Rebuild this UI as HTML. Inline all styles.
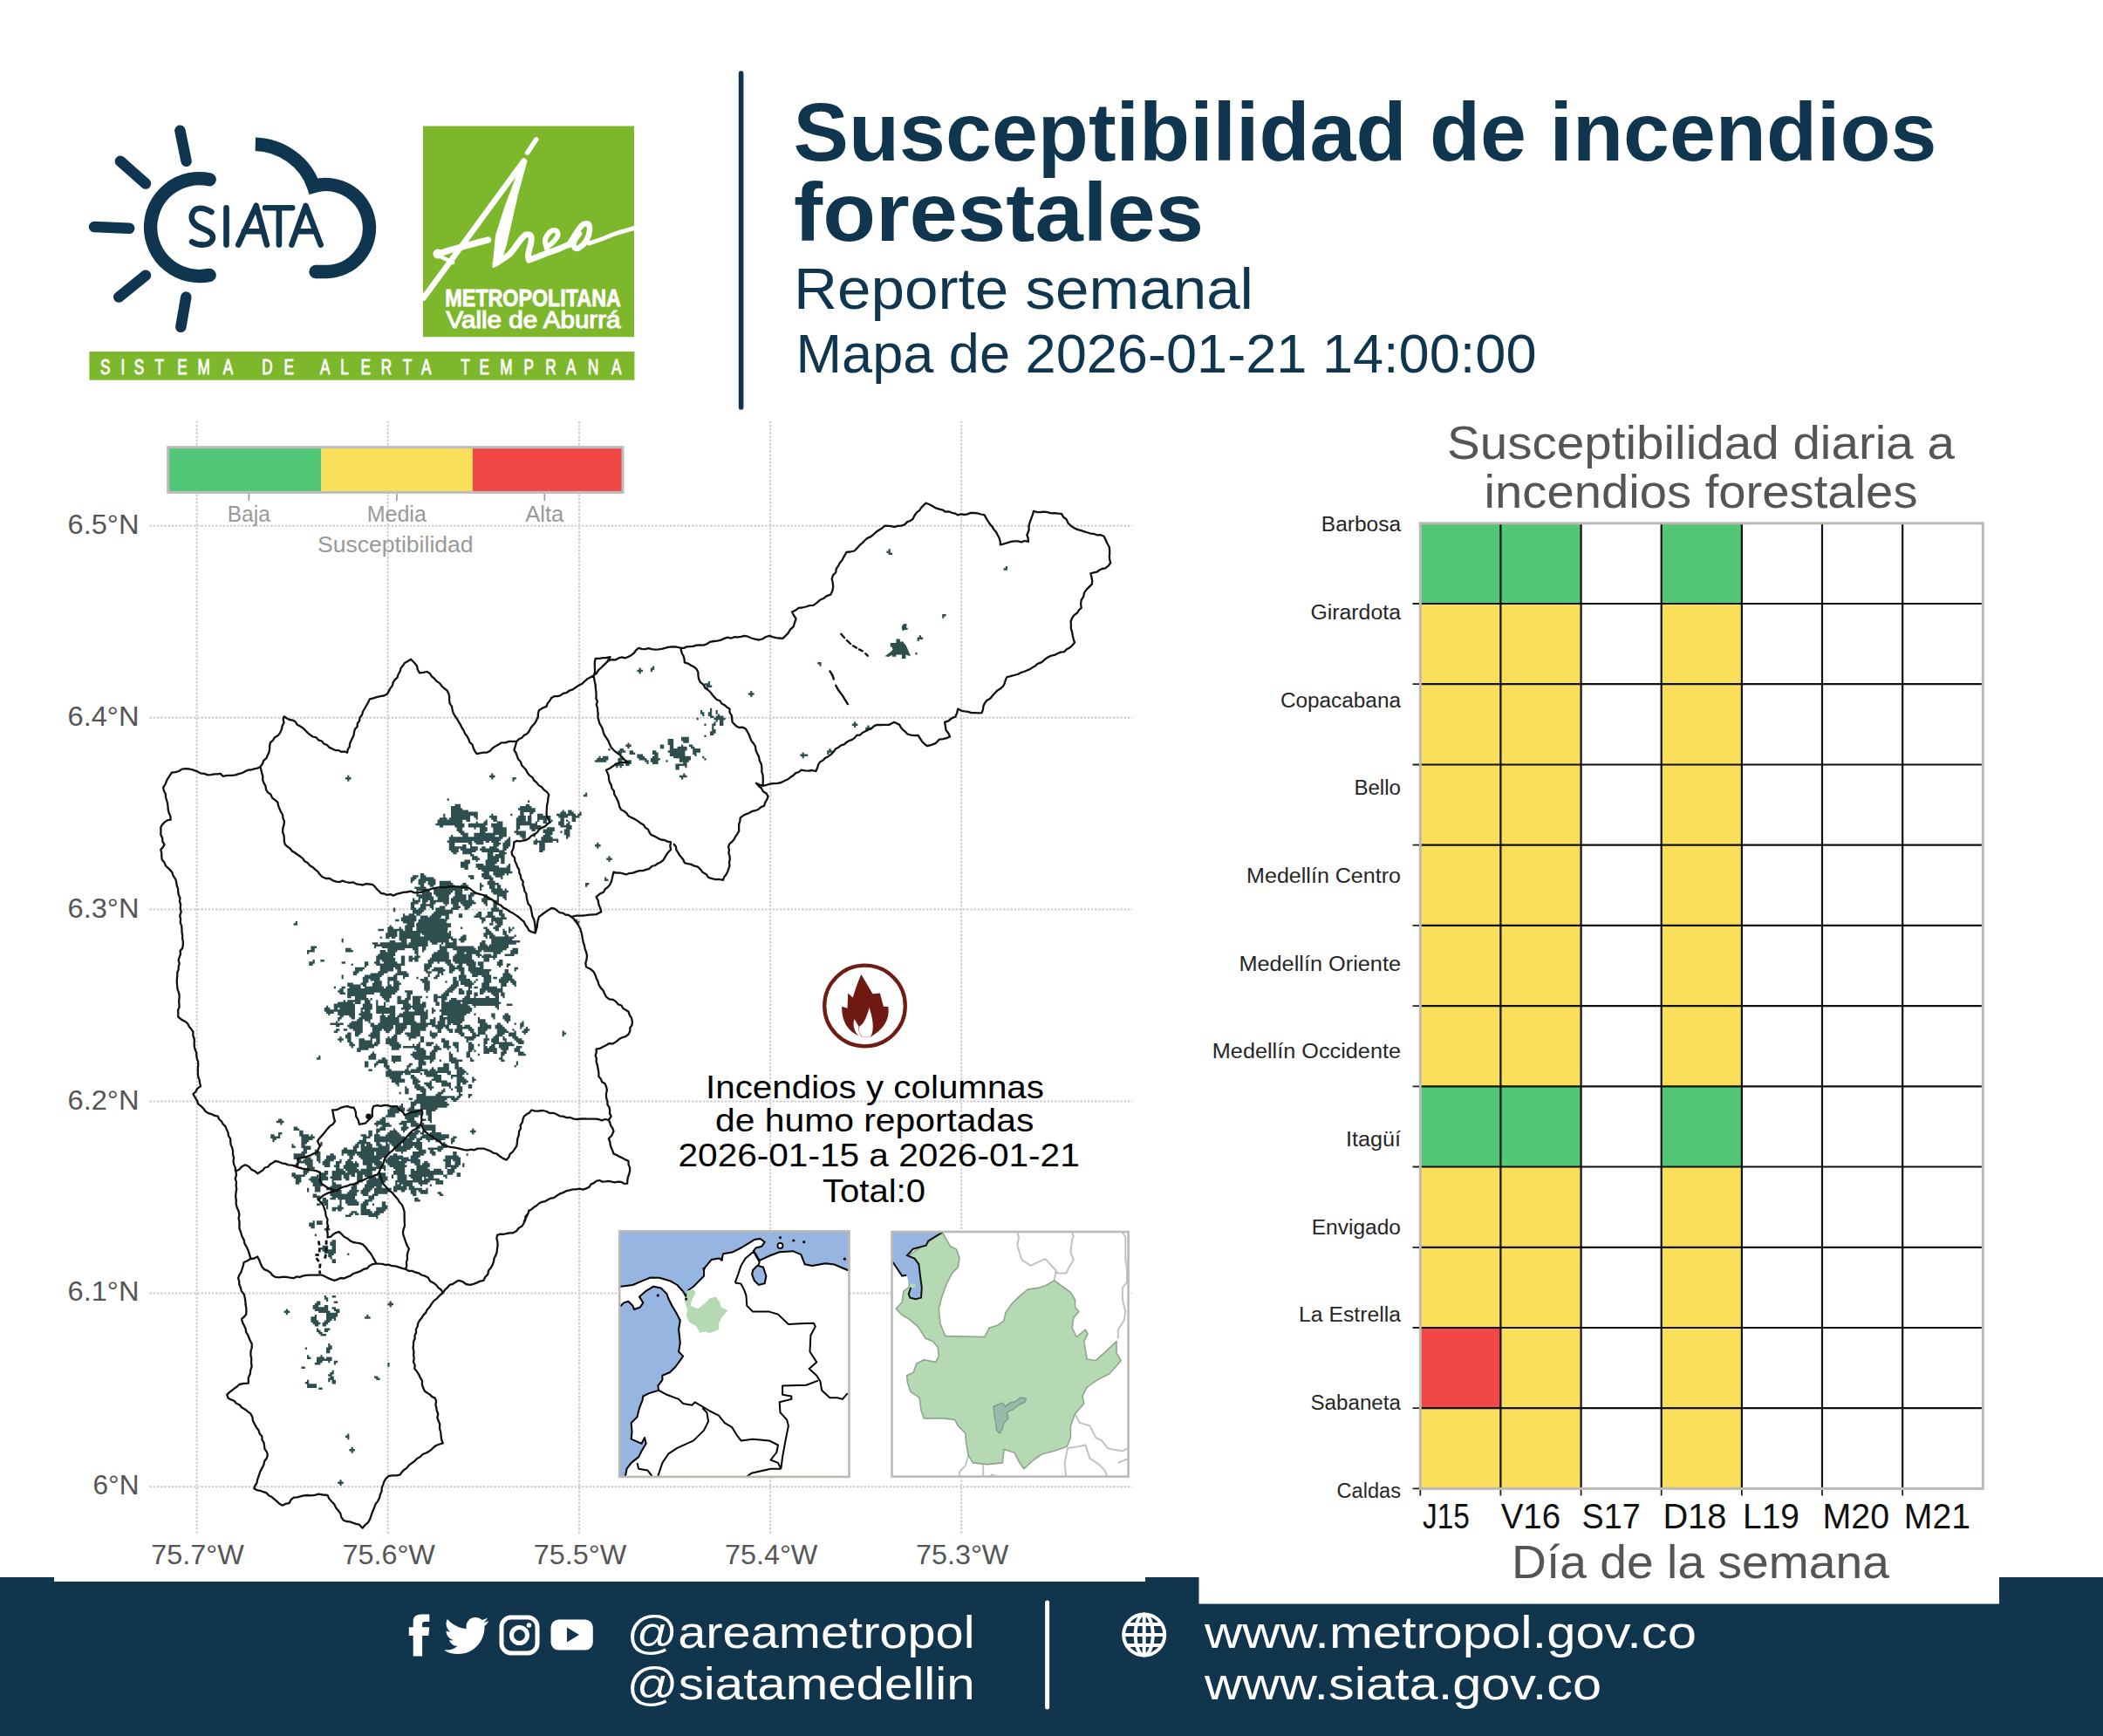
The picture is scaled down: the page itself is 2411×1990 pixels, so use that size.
<!DOCTYPE html>
<html><head><meta charset="utf-8"><title>Susceptibilidad de incendios forestales</title>
<style>html,body{margin:0;padding:0;background:#fff}body{width:2411px;height:1990px;overflow:hidden;position:relative;font-family:"Liberation Sans",sans-serif}svg{position:absolute;left:0;top:0;display:block}</style>
</head><body>
<svg width="2411" height="1990" viewBox="0 0 2411 1990" font-family="Liberation Sans">
<rect width="2411" height="1990" fill="#fff"/>
<rect x="0" y="1808" width="2411" height="182" fill="#11354d"/>
<rect x="62" y="1800" width="1251" height="13" fill="#fff"/>
<rect x="1374.5" y="1800" width="917.5" height="38.5" fill="#fff"/>
<g fill="none" stroke="#10364f" stroke-linecap="round">
<line x1="206.4" y1="149.7" x2="213.6" y2="184.8" stroke-width="12.5"/>
<line x1="137.9" y1="184.8" x2="167" y2="210.5" stroke-width="12.5"/>
<line x1="108" y1="260" x2="148.2" y2="261.8" stroke-width="12.5"/>
<line x1="136.2" y1="340.6" x2="167" y2="315.7" stroke-width="12.5"/>
<line x1="213.3" y1="340.6" x2="207.3" y2="374.8" stroke-width="12.5"/>
<path d="M240.1 205.8 A56.0 56.0 0 1 0 240.1 315.4" stroke-width="15.4"/>
<path d="M292.8 165.2 C322 166 350 185 359.5 213.5 A50.0 50.0 0 1 1 374.5 311.5 L362 311.5" stroke-width="15.4" stroke-linecap="butt"/>
<circle cx="362" cy="311.5" r="7.7" fill="#10364f" stroke="none"/>
</g>
<path d="M242.4 243.0 C237.2 239.6 232.1 238.7 229.5 238.7 C220.1 238.7 219.2 248.1 220.1 251.5 C221.8 260.1 233.8 261.8 238.9 265.2 C247.5 269.5 244.9 280.6 232.1 280.6 C226.9 280.6 222.7 278.9 220.1 277.2 M259.5 238.2 L259.5 280.6 M273.2 280.6 L293.7 235.8 L306.0 280.6 M279.7 265.2 L299.9 265.2 M304.0 238.2 L335.1 238.2 M319.9 238.2 L319.9 280.6 M334.4 280.6 L350.5 235.8 L367.7 280.6 M340.3 265.2 L361.8 265.2" fill="none" stroke="#10364f" stroke-width="6.6" stroke-linecap="round" stroke-linejoin="round"/>
<rect x="485" y="144.5" width="242" height="241.7" fill="#7db72b"/>
<path d="M614.8 159.8 L604.6 175.2" stroke="#fff" stroke-width="5.5" stroke-linecap="round" fill="none"/>
<path d="M485.6 341.5 L600.6 184.5" stroke="#fff" stroke-width="6.5" fill="none" stroke-linecap="round"/>
<path d="M501.5 291.5 C504.0 290.7 511.1 288.2 516.7 286.5 C522.3 284.8 528.2 283.4 535.3 281.5 C542.4 279.6 555.5 276.1 559.5 275" stroke="#fff" stroke-width="7.5" fill="none" stroke-linecap="round"/>
<circle cx="502" cy="291" r="5.5" fill="#fff"/>
<path d="M503 293 L515 299 L519 301" stroke="#fff" stroke-width="4.5" fill="none" stroke-linecap="round"/>
<path d="M599.5 183.5 L603.5 184.5 L592.9 223.3 L580 280 L573 302 L565.5 306 L569 270 L578.9 238.9 Z" fill="#fff" stroke="#fff" stroke-width="2" stroke-linejoin="round"/>
<path d="M568 302 C570.7 300.2 579.3 295.8 584 291.5 C588.7 287.2 592.8 279.8 596 276 C599.2 272.2 600.9 269.9 603 269 C605.1 268.1 607.5 269.2 608.5 270.5 C609.5 271.8 609.5 273.4 609 277 C608.5 280.6 605.9 288.5 605.5 292 C605.1 295.5 606.3 297.0 606.5 298" stroke="#fff" stroke-width="7" fill="none" stroke-linecap="round" stroke-linejoin="round"/>
<path d="M606.5 298 C609.6 296.8 619.4 293.1 625 291 C630.6 288.9 635.3 287.3 640 285.5 C644.7 283.7 650.8 280.9 653 280" stroke="#fff" stroke-width="7" fill="none" stroke-linecap="round"/>
<path d="M627 285 C626.7 283.3 624.3 278.2 625 275 C625.7 271.8 628.9 267.2 631 265.5 C633.1 263.8 636.1 263.8 637.5 264.5 C638.9 265.2 640.2 267.7 639.5 270 C638.8 272.3 635.2 276.3 633 278.5 C630.8 280.7 627.6 282.2 626.5 283" stroke="#fff" stroke-width="6" fill="none" stroke-linecap="round"/>
<path d="M652 281 C653.3 278.8 657.5 271.8 660 268 C662.5 264.2 664.7 260.4 667 258.5 C669.3 256.6 672.5 255.6 674 256.5 C675.5 257.4 676.3 260.8 676 264 C675.7 267.2 674.0 272.7 672 276 C670.0 279.3 666.2 282.7 664 284 C661.8 285.3 660.0 285.2 659 284 C658.0 282.8 657.2 279.7 658 277 C658.8 274.3 663.0 269.5 664 268" stroke="#fff" stroke-width="6.5" fill="none" stroke-linecap="round" stroke-linejoin="round"/>
<path d="M675 279 C677.5 278.2 685.0 275.8 690 274 C695.0 272.2 698.8 270.1 705 268 C711.2 265.9 723.3 262.6 727 261.5" stroke="#fff" stroke-width="5" fill="none" stroke-linecap="round"/>
<text x="510.3" y="351.3" font-family="Liberation Sans" font-weight="bold" font-size="27" fill="#fff" stroke="#fff" stroke-width="0.8" textLength="201.5" lengthAdjust="spacingAndGlyphs">METROPOLITANA</text>
<text x="511.5" y="376" font-family="Liberation Sans" font-size="27" fill="#fff" stroke="#fff" stroke-width="1.1" textLength="200" lengthAdjust="spacingAndGlyphs">Valle de Aburrá</text>
<rect x="102.4" y="403" width="625" height="32.7" fill="#7db72b"/>
<g font-family="Liberation Sans" font-size="23.8" fill="#fff" stroke="#fff" stroke-width="0.9" text-anchor="middle"><text transform="translate(120.6 429.2) scale(0.72 1)">S</text><text transform="translate(141 429.2) scale(0.72 1)">I</text><text transform="translate(159.5 429.2) scale(0.72 1)">S</text><text transform="translate(182.7 429.2) scale(0.72 1)">T</text><text transform="translate(209 429.2) scale(0.72 1)">E</text><text transform="translate(233.7 429.2) scale(0.72 1)">M</text><text transform="translate(261.5 429.2) scale(0.72 1)">A</text><text transform="translate(306.4 429.2) scale(0.72 1)">D</text><text transform="translate(331.1 429.2) scale(0.72 1)">E</text><text transform="translate(372.8 429.2) scale(0.72 1)">A</text><text transform="translate(395.1 429.2) scale(0.72 1)">L</text><text transform="translate(419.2 429.2) scale(0.72 1)">E</text><text transform="translate(443 429.2) scale(0.72 1)">R</text><text transform="translate(467.1 429.2) scale(0.72 1)">T</text><text transform="translate(488.7 429.2) scale(0.72 1)">A</text><text transform="translate(533.5 429.2) scale(0.72 1)">T</text><text transform="translate(555.2 429.2) scale(0.72 1)">E</text><text transform="translate(580.5 429.2) scale(0.72 1)">M</text><text transform="translate(606.2 429.2) scale(0.72 1)">P</text><text transform="translate(631.5 429.2) scale(0.72 1)">R</text><text transform="translate(654.7 429.2) scale(0.72 1)">A</text><text transform="translate(680.3 429.2) scale(0.72 1)">N</text><text transform="translate(706.6 429.2) scale(0.72 1)">A</text></g>
<line x1="849.6" y1="84" x2="849.6" y2="467" stroke="#10364f" stroke-width="5.6" stroke-linecap="round"/>
<text x="909.5" y="184" font-family="Liberation Sans" font-weight="bold" font-size="95" fill="#10364f" textLength="1311" lengthAdjust="spacingAndGlyphs">Susceptibilidad de incendios</text>
<text x="910" y="276" font-family="Liberation Sans" font-weight="bold" font-size="95" fill="#10364f" textLength="470" lengthAdjust="spacingAndGlyphs">forestales</text>
<text x="910" y="353.7" font-family="Liberation Sans" font-size="67" fill="#10364f" textLength="527" lengthAdjust="spacingAndGlyphs">Reporte semanal</text>
<text x="912.5" y="426.6" font-family="Liberation Sans" font-size="63" fill="#10364f" textLength="849" lengthAdjust="spacingAndGlyphs">Mapa de 2026-01-21 14:00:00</text>
<path d="M171.5 602.8H1298M171.5 822.7H1298M171.5 1042.6H1298M171.5 1262.5H1298M171.5 1482.4H1298M171.5 1704.3H1298M225.6 482.7V1759M444.7 482.7V1759M664.1 482.7V1759M883.2 482.7V1759M1102.2 482.7V1759" stroke="#cccccc" stroke-width="2" stroke-dasharray="2.5 1.7" fill="none"/>
<text x="159.5" y="611.8" text-anchor="end" font-family="Liberation Sans" font-size="31" fill="#555" textLength="82" lengthAdjust="spacingAndGlyphs">6.5°N</text>
<text x="159.5" y="831.7" text-anchor="end" font-family="Liberation Sans" font-size="31" fill="#555" textLength="82" lengthAdjust="spacingAndGlyphs">6.4°N</text>
<text x="159.5" y="1051.6" text-anchor="end" font-family="Liberation Sans" font-size="31" fill="#555" textLength="82" lengthAdjust="spacingAndGlyphs">6.3°N</text>
<text x="159.5" y="1271.5" text-anchor="end" font-family="Liberation Sans" font-size="31" fill="#555" textLength="82" lengthAdjust="spacingAndGlyphs">6.2°N</text>
<text x="159.5" y="1491.4" text-anchor="end" font-family="Liberation Sans" font-size="31" fill="#555" textLength="82" lengthAdjust="spacingAndGlyphs">6.1°N</text>
<text x="159.5" y="1713.3" text-anchor="end" font-family="Liberation Sans" font-size="31" fill="#555" textLength="53" lengthAdjust="spacingAndGlyphs">6°N</text>
<text x="173.3" y="1792.5" font-family="Liberation Sans" font-size="31" fill="#555" textLength="106.5" lengthAdjust="spacingAndGlyphs">75.7°W</text>
<text x="392.4" y="1792.5" font-family="Liberation Sans" font-size="31" fill="#555" textLength="106.5" lengthAdjust="spacingAndGlyphs">75.6°W</text>
<text x="611.8" y="1792.5" font-family="Liberation Sans" font-size="31" fill="#555" textLength="106.5" lengthAdjust="spacingAndGlyphs">75.5°W</text>
<text x="830.9" y="1792.5" font-family="Liberation Sans" font-size="31" fill="#555" textLength="106.5" lengthAdjust="spacingAndGlyphs">75.4°W</text>
<text x="1049.9" y="1792.5" font-family="Liberation Sans" font-size="31" fill="#555" textLength="106.5" lengthAdjust="spacingAndGlyphs">75.3°W</text>
<rect x="191.7" y="511.7" width="176.7" height="53.7" fill="#52c777"/>
<rect x="368.4" y="511.7" width="173.5" height="53.7" fill="#f9df5a"/>
<rect x="541.9" y="511.7" width="173.1" height="53.7" fill="#f14747"/>
<rect x="192.7" y="512.7" width="521.3" height="51.7" fill="none" stroke="#bcbcbc" stroke-width="3"/>
<path d="M285.3 566V574M454.8 566V574M624.3 566V574" stroke="#999" stroke-width="1.6"/>
<text x="260.8" y="598" font-family="Liberation Sans" font-size="25.5" fill="#999" textLength="49" lengthAdjust="spacingAndGlyphs">Baja</text>
<text x="420.8" y="598" font-family="Liberation Sans" font-size="25.5" fill="#999" textLength="68" lengthAdjust="spacingAndGlyphs">Media</text>
<text x="602.3" y="598" font-family="Liberation Sans" font-size="25.5" fill="#999" textLength="44" lengthAdjust="spacingAndGlyphs">Alta</text>
<text x="364" y="633.3" font-family="Liberation Sans" font-size="25.5" fill="#999" textLength="178.6" lengthAdjust="spacingAndGlyphs">Susceptibilidad</text>
<circle cx="991.5" cy="1153" r="46.3" fill="#fff" stroke="#6e1c14" stroke-width="4.3"/>
<path d="M 987.4 1117.1 L 1000.5 1139.2 L 1008.8 1138.5 L 1012.9 1153.7 L 1018.3 1154.1 C 1019.7 1164.1 1017.2 1177.9 998.4 1188.4 L 988.1 1188.4 C 972.8 1184.1 964.6 1171.0 965.2 1153.7 L 971.5 1155.8 L 972.2 1138.5 L 977.7 1143.4 C 981.1 1133.0 984.6 1122.6 987.4 1117.1 Z" fill="#6e1a12"/>
<path d="M 996.5 1155.1 C 999.9 1164.1 1003.4 1180.7 998.1 1188.4 L 988.4 1188.4 C 985.3 1184.8 984.0 1180.7 985.4 1176.5 C 990.8 1173.8 994.3 1164.1 996.5 1155.1 Z M 979.6 1168.3 C 977.5 1172.4 978.2 1182.2 985.3 1188.3 L 987.7 1188.4 C 984.6 1184.1 983.8 1180.0 984.6 1176.7 Z" fill="#fff"/>
<text x="809" y="1258.8" font-family="Liberation Sans" font-size="37" fill="#000" textLength="388" lengthAdjust="spacingAndGlyphs">Incendios y columnas</text>
<text x="820" y="1296.8" font-family="Liberation Sans" font-size="37" fill="#000" textLength="365.4" lengthAdjust="spacingAndGlyphs">de humo reportadas</text>
<text x="777.5" y="1337.3" font-family="Liberation Sans" font-size="37" fill="#000" textLength="460.2" lengthAdjust="spacingAndGlyphs">2026-01-15 a 2026-01-21</text>
<text x="943" y="1377.7" font-family="Liberation Sans" font-size="37" fill="#000" textLength="118" lengthAdjust="spacingAndGlyphs">Total:0</text>
<path d="M1018.6 629.2h2.2v2.5h-2.2zM1016.4 631.4h4.4v2.5h-4.4zM1018.6 633.6h4.4v2.5h-4.4zM1152.8 649.0h2.2v2.5h-2.2zM1150.6 651.2h4.4v2.5h-4.4zM1080.2 704.0h4.4v2.5h-4.4zM1080.2 706.2h2.2v2.5h-2.2zM1036.2 715.0h2.2v2.5h-2.2zM1034.0 717.2h4.4v2.5h-4.4zM1036.2 719.4h4.4v2.5h-4.4zM1053.8 728.2h2.2v2.5h-2.2zM1051.6 730.4h6.6v2.5h-6.6zM1027.4 732.6h4.4v2.5h-4.4zM1051.6 732.6h2.2v2.5h-2.2zM1027.4 734.8h4.4v2.5h-4.4zM1020.8 737.0h11.0v2.5h-11.0zM1034.0 737.0h2.2v2.5h-2.2zM1020.8 739.2h15.4v2.5h-15.4zM1023.0 741.4h4.4v2.5h-4.4zM1034.0 741.4h2.2v2.5h-2.2zM1025.2 743.6h4.4v2.5h-4.4zM1034.0 743.6h2.2v2.5h-2.2zM1023.0 745.8h15.4v2.5h-15.4zM1023.0 748.0h17.6v2.5h-17.6zM1049.4 748.0h2.2v2.5h-2.2zM1023.0 750.2h4.4v2.5h-4.4zM1034.0 750.2h4.4v2.5h-4.4zM1034.0 752.4h4.4v2.5h-4.4zM937.2 759.0h4.4v2.5h-4.4zM939.4 761.2h2.2v2.5h-2.2zM748.0 763.4h2.2v2.5h-2.2zM732.6 765.6h2.2v2.5h-2.2zM745.8 765.6h4.4v2.5h-4.4zM730.4 767.8h6.6v2.5h-6.6zM745.8 767.8h2.2v2.5h-2.2zM732.6 770.0h2.2v2.5h-2.2zM811.8 781.0h2.2v2.5h-2.2zM807.4 783.2h6.6v2.5h-6.6zM809.6 785.4h6.6v2.5h-6.6zM809.6 787.6h2.2v2.5h-2.2zM860.2 792.0h2.2v2.5h-2.2zM858.0 794.2h6.6v2.5h-6.6zM860.2 796.4h2.2v2.5h-2.2zM814.0 811.8h2.2v2.5h-2.2zM803.0 814.0h2.2v2.5h-2.2zM814.0 814.0h2.2v2.5h-2.2zM820.6 814.0h2.2v2.5h-2.2zM803.0 816.2h4.4v2.5h-4.4zM811.8 816.2h4.4v2.5h-4.4zM820.6 816.2h2.2v2.5h-2.2zM805.2 818.4h2.2v2.5h-2.2zM811.8 818.4h4.4v2.5h-4.4zM822.8 818.4h2.2v2.5h-2.2zM814.0 820.6h4.4v2.5h-4.4zM820.6 820.6h8.8v2.5h-8.8zM798.6 822.8h2.2v2.5h-2.2zM818.4 822.8h13.2v2.5h-13.2zM820.6 825.0h2.2v2.5h-2.2zM825.0 825.0h4.4v2.5h-4.4zM818.4 827.2h2.2v2.5h-2.2zM825.0 827.2h4.4v2.5h-4.4zM979.0 827.2h2.2v2.5h-2.2zM807.4 829.4h2.2v2.5h-2.2zM816.2 829.4h4.4v2.5h-4.4zM825.0 829.4h4.4v2.5h-4.4zM976.8 829.4h6.6v2.5h-6.6zM816.2 831.6h2.2v2.5h-2.2zM979.0 831.6h2.2v2.5h-2.2zM994.4 831.6h2.2v2.5h-2.2zM816.2 833.8h2.2v2.5h-2.2zM992.2 833.8h6.6v2.5h-6.6zM816.2 836.0h4.4v2.5h-4.4zM992.2 836.0h2.2v2.5h-2.2zM814.0 838.2h6.6v2.5h-6.6zM814.0 840.4h4.4v2.5h-4.4zM807.4 842.6h2.2v2.5h-2.2zM781.0 844.8h8.8v2.5h-8.8zM765.6 847.0h6.6v2.5h-6.6zM781.0 847.0h8.8v2.5h-8.8zM765.6 849.2h6.6v2.5h-6.6zM783.2 849.2h6.6v2.5h-6.6zM719.4 851.4h2.2v2.5h-2.2zM765.6 851.4h6.6v2.5h-6.6zM717.2 853.6h6.6v2.5h-6.6zM756.8 853.6h4.4v2.5h-4.4zM767.8 853.6h4.4v2.5h-4.4zM781.0 853.6h2.2v2.5h-2.2zM789.8 853.6h4.4v2.5h-4.4zM719.4 855.8h2.2v2.5h-2.2zM756.8 855.8h4.4v2.5h-4.4zM767.8 855.8h4.4v2.5h-4.4zM776.6 855.8h11.0v2.5h-11.0zM792.0 855.8h4.4v2.5h-4.4zM697.4 858.0h2.2v2.5h-2.2zM710.6 858.0h4.4v2.5h-4.4zM767.8 858.0h19.8v2.5h-19.8zM794.2 858.0h8.8v2.5h-8.8zM950.4 858.0h2.2v2.5h-2.2zM708.4 860.2h8.8v2.5h-8.8zM721.6 860.2h4.4v2.5h-4.4zM748.0 860.2h4.4v2.5h-4.4zM765.6 860.2h19.8v2.5h-19.8zM794.2 860.2h8.8v2.5h-8.8zM948.2 860.2h6.6v2.5h-6.6zM708.4 862.4h4.4v2.5h-4.4zM721.6 862.4h6.6v2.5h-6.6zM748.0 862.4h6.6v2.5h-6.6zM767.8 862.4h17.6v2.5h-17.6zM794.2 862.4h4.4v2.5h-4.4zM919.6 862.4h2.2v2.5h-2.2zM948.2 862.4h2.2v2.5h-2.2zM730.4 864.6h6.6v2.5h-6.6zM750.2 864.6h4.4v2.5h-4.4zM767.8 864.6h17.6v2.5h-17.6zM796.4 864.6h2.2v2.5h-2.2zM917.4 864.6h8.8v2.5h-8.8zM686.4 866.8h2.2v2.5h-2.2zM690.8 866.8h6.6v2.5h-6.6zM710.6 866.8h2.2v2.5h-2.2zM730.4 866.8h8.8v2.5h-8.8zM748.0 866.8h6.6v2.5h-6.6zM772.2 866.8h19.8v2.5h-19.8zM805.2 866.8h2.2v2.5h-2.2zM919.6 866.8h2.2v2.5h-2.2zM684.2 869.0h13.2v2.5h-13.2zM708.4 869.0h6.6v2.5h-6.6zM732.6 869.0h8.8v2.5h-8.8zM745.8 869.0h11.0v2.5h-11.0zM778.8 869.0h13.2v2.5h-13.2zM807.4 869.0h2.2v2.5h-2.2zM682.0 871.2h13.2v2.5h-13.2zM708.4 871.2h4.4v2.5h-4.4zM719.4 871.2h4.4v2.5h-4.4zM739.2 871.2h4.4v2.5h-4.4zM745.8 871.2h8.8v2.5h-8.8zM763.4 871.2h2.2v2.5h-2.2zM778.8 871.2h11.0v2.5h-11.0zM708.4 873.4h2.2v2.5h-2.2zM717.2 873.4h6.6v2.5h-6.6zM741.4 873.4h2.2v2.5h-2.2zM748.0 873.4h6.6v2.5h-6.6zM783.2 873.4h4.4v2.5h-4.4zM704.0 875.6h11.0v2.5h-11.0zM717.2 875.6h4.4v2.5h-4.4zM774.4 875.6h13.2v2.5h-13.2zM706.2 877.8h2.2v2.5h-2.2zM710.6 877.8h2.2v2.5h-2.2zM774.4 877.8h4.4v2.5h-4.4zM785.4 877.8h2.2v2.5h-2.2zM774.4 880.0h4.4v2.5h-4.4zM563.2 886.6h2.2v2.5h-2.2zM783.2 886.6h2.2v2.5h-2.2zM398.2 888.8h2.2v2.5h-2.2zM561.0 888.8h6.6v2.5h-6.6zM778.8 888.8h8.8v2.5h-8.8zM396.0 891.0h6.6v2.5h-6.6zM563.2 891.0h2.2v2.5h-2.2zM587.4 891.0h4.4v2.5h-4.4zM781.0 891.0h2.2v2.5h-2.2zM398.2 893.2h2.2v2.5h-2.2zM587.4 893.2h2.2v2.5h-2.2zM671.0 908.6h2.2v2.5h-2.2zM668.8 910.8h4.4v2.5h-4.4zM512.6 915.2h2.2v2.5h-2.2zM605.0 917.4h2.2v2.5h-2.2zM521.4 921.8h6.6v2.5h-6.6zM602.8 921.8h4.4v2.5h-4.4zM517.0 924.0h11.0v2.5h-11.0zM596.2 924.0h13.2v2.5h-13.2zM517.0 926.2h13.2v2.5h-13.2zM594.0 926.2h19.8v2.5h-19.8zM517.0 928.4h19.8v2.5h-19.8zM596.2 928.4h17.6v2.5h-17.6zM644.6 928.4h2.2v2.5h-2.2zM651.2 928.4h4.4v2.5h-4.4zM517.0 930.6h30.8v2.5h-30.8zM596.2 930.6h4.4v2.5h-4.4zM607.2 930.6h4.4v2.5h-4.4zM642.4 930.6h6.6v2.5h-6.6zM651.2 930.6h6.6v2.5h-6.6zM664.4 930.6h2.2v2.5h-2.2zM508.2 932.8h2.2v2.5h-2.2zM517.0 932.8h30.8v2.5h-30.8zM563.2 932.8h2.2v2.5h-2.2zM585.2 932.8h2.2v2.5h-2.2zM596.2 932.8h4.4v2.5h-4.4zM607.2 932.8h2.2v2.5h-2.2zM616.0 932.8h6.6v2.5h-6.6zM638.0 932.8h22.0v2.5h-22.0zM662.2 932.8h4.4v2.5h-4.4zM508.2 935.0h2.2v2.5h-2.2zM517.0 935.0h22.0v2.5h-22.0zM543.4 935.0h4.4v2.5h-4.4zM561.0 935.0h8.8v2.5h-8.8zM594.0 935.0h8.8v2.5h-8.8zM605.0 935.0h4.4v2.5h-4.4zM616.0 935.0h15.4v2.5h-15.4zM640.2 935.0h11.0v2.5h-11.0zM655.6 935.0h8.8v2.5h-8.8zM503.8 937.2h8.8v2.5h-8.8zM514.8 937.2h24.2v2.5h-24.2zM545.6 937.2h2.2v2.5h-2.2zM563.2 937.2h6.6v2.5h-6.6zM591.8 937.2h11.0v2.5h-11.0zM605.0 937.2h4.4v2.5h-4.4zM616.0 937.2h15.4v2.5h-15.4zM642.4 937.2h4.4v2.5h-4.4zM655.6 937.2h4.4v2.5h-4.4zM501.6 939.4h28.6v2.5h-28.6zM534.6 939.4h4.4v2.5h-4.4zM556.6 939.4h2.2v2.5h-2.2zM565.4 939.4h4.4v2.5h-4.4zM591.8 939.4h11.0v2.5h-11.0zM605.0 939.4h4.4v2.5h-4.4zM616.0 939.4h2.2v2.5h-2.2zM622.6 939.4h4.4v2.5h-4.4zM631.4 939.4h2.2v2.5h-2.2zM642.4 939.4h4.4v2.5h-4.4zM649.0 939.4h2.2v2.5h-2.2zM655.6 939.4h4.4v2.5h-4.4zM501.6 941.6h28.6v2.5h-28.6zM545.6 941.6h2.2v2.5h-2.2zM554.4 941.6h4.4v2.5h-4.4zM569.8 941.6h6.6v2.5h-6.6zM591.8 941.6h17.6v2.5h-17.6zM613.8 941.6h2.2v2.5h-2.2zM622.6 941.6h4.4v2.5h-4.4zM640.2 941.6h6.6v2.5h-6.6zM651.2 941.6h2.2v2.5h-2.2zM499.4 943.8h33.0v2.5h-33.0zM536.8 943.8h22.0v2.5h-22.0zM563.2 943.8h13.2v2.5h-13.2zM591.8 943.8h24.2v2.5h-24.2zM640.2 943.8h6.6v2.5h-6.6zM649.0 943.8h4.4v2.5h-4.4zM503.8 946.0h4.4v2.5h-4.4zM521.4 946.0h11.0v2.5h-11.0zM536.8 946.0h19.8v2.5h-19.8zM563.2 946.0h13.2v2.5h-13.2zM591.8 946.0h4.4v2.5h-4.4zM607.2 946.0h13.2v2.5h-13.2zM642.4 946.0h13.2v2.5h-13.2zM523.6 948.2h6.6v2.5h-6.6zM543.4 948.2h2.2v2.5h-2.2zM550.0 948.2h8.8v2.5h-8.8zM565.4 948.2h15.4v2.5h-15.4zM591.8 948.2h4.4v2.5h-4.4zM607.2 948.2h13.2v2.5h-13.2zM627.0 948.2h8.8v2.5h-8.8zM649.0 948.2h6.6v2.5h-6.6zM523.6 950.4h6.6v2.5h-6.6zM550.0 950.4h8.8v2.5h-8.8zM565.4 950.4h15.4v2.5h-15.4zM591.8 950.4h2.2v2.5h-2.2zM609.4 950.4h4.4v2.5h-4.4zM622.6 950.4h13.2v2.5h-13.2zM646.8 950.4h6.6v2.5h-6.6zM525.8 952.6h6.6v2.5h-6.6zM550.0 952.6h6.6v2.5h-6.6zM565.4 952.6h15.4v2.5h-15.4zM589.6 952.6h13.2v2.5h-13.2zM622.6 952.6h11.0v2.5h-11.0zM642.4 952.6h2.2v2.5h-2.2zM646.8 952.6h6.6v2.5h-6.6zM528.0 954.8h8.8v2.5h-8.8zM543.4 954.8h37.4v2.5h-37.4zM591.8 954.8h11.0v2.5h-11.0zM611.6 954.8h2.2v2.5h-2.2zM624.8 954.8h8.8v2.5h-8.8zM646.8 954.8h6.6v2.5h-6.6zM517.0 957.0h2.2v2.5h-2.2zM530.2 957.0h6.6v2.5h-6.6zM543.4 957.0h24.2v2.5h-24.2zM572.0 957.0h8.8v2.5h-8.8zM596.2 957.0h6.6v2.5h-6.6zM611.6 957.0h2.2v2.5h-2.2zM622.6 957.0h8.8v2.5h-8.8zM649.0 957.0h4.4v2.5h-4.4zM514.8 959.2h61.6v2.5h-61.6zM583.0 959.2h2.2v2.5h-2.2zM598.4 959.2h4.4v2.5h-4.4zM620.4 959.2h13.2v2.5h-13.2zM649.0 959.2h2.2v2.5h-2.2zM514.8 961.4h59.4v2.5h-59.4zM580.8 961.4h4.4v2.5h-4.4zM613.8 961.4h2.2v2.5h-2.2zM620.4 961.4h19.8v2.5h-19.8zM512.6 963.6h28.6v2.5h-28.6zM543.4 963.6h11.0v2.5h-11.0zM556.6 963.6h4.4v2.5h-4.4zM563.2 963.6h8.8v2.5h-8.8zM578.6 963.6h6.6v2.5h-6.6zM611.6 963.6h22.0v2.5h-22.0zM638.0 963.6h2.2v2.5h-2.2zM514.8 965.8h6.6v2.5h-6.6zM536.8 965.8h4.4v2.5h-4.4zM545.6 965.8h8.8v2.5h-8.8zM565.4 965.8h8.8v2.5h-8.8zM576.4 965.8h8.8v2.5h-8.8zM611.6 965.8h4.4v2.5h-4.4zM618.2 965.8h6.6v2.5h-6.6zM684.2 965.8h2.2v2.5h-2.2zM514.8 968.0h6.6v2.5h-6.6zM530.2 968.0h4.4v2.5h-4.4zM539.0 968.0h2.2v2.5h-2.2zM565.4 968.0h6.6v2.5h-6.6zM576.4 968.0h8.8v2.5h-8.8zM618.2 968.0h6.6v2.5h-6.6zM682.0 968.0h6.6v2.5h-6.6zM514.8 970.2h19.8v2.5h-19.8zM539.0 970.2h8.8v2.5h-8.8zM552.2 970.2h4.4v2.5h-4.4zM561.0 970.2h8.8v2.5h-8.8zM576.4 970.2h6.6v2.5h-6.6zM618.2 970.2h6.6v2.5h-6.6zM684.2 970.2h2.2v2.5h-2.2zM514.8 972.4h11.0v2.5h-11.0zM528.0 972.4h19.8v2.5h-19.8zM550.0 972.4h22.0v2.5h-22.0zM576.4 972.4h4.4v2.5h-4.4zM618.2 972.4h6.6v2.5h-6.6zM517.0 974.6h8.8v2.5h-8.8zM530.2 974.6h15.4v2.5h-15.4zM552.2 974.6h26.4v2.5h-26.4zM618.2 974.6h4.4v2.5h-4.4zM519.2 976.8h4.4v2.5h-4.4zM530.2 976.8h11.0v2.5h-11.0zM558.8 976.8h6.6v2.5h-6.6zM572.0 976.8h8.8v2.5h-8.8zM539.0 979.0h4.4v2.5h-4.4zM558.8 979.0h6.6v2.5h-6.6zM567.6 979.0h11.0v2.5h-11.0zM541.2 981.2h6.6v2.5h-6.6zM558.8 981.2h19.8v2.5h-19.8zM697.4 981.2h2.2v2.5h-2.2zM541.2 983.4h8.8v2.5h-8.8zM558.8 983.4h13.2v2.5h-13.2zM574.2 983.4h4.4v2.5h-4.4zM695.2 983.4h6.6v2.5h-6.6zM532.4 985.6h6.6v2.5h-6.6zM545.6 985.6h2.2v2.5h-2.2zM556.6 985.6h15.4v2.5h-15.4zM574.2 985.6h4.4v2.5h-4.4zM697.4 985.6h2.2v2.5h-2.2zM528.0 987.8h11.0v2.5h-11.0zM556.6 987.8h13.2v2.5h-13.2zM574.2 987.8h4.4v2.5h-4.4zM528.0 990.0h8.8v2.5h-8.8zM545.6 990.0h8.8v2.5h-8.8zM556.6 990.0h11.0v2.5h-11.0zM583.0 990.0h2.2v2.5h-2.2zM528.0 992.2h8.8v2.5h-8.8zM545.6 992.2h26.4v2.5h-26.4zM580.8 992.2h4.4v2.5h-4.4zM532.4 994.4h4.4v2.5h-4.4zM547.8 994.4h37.4v2.5h-37.4zM552.2 996.6h33.0v2.5h-33.0zM554.4 998.8h6.6v2.5h-6.6zM565.4 998.8h22.0v2.5h-22.0zM481.8 1001.0h4.4v2.5h-4.4zM552.2 1001.0h8.8v2.5h-8.8zM565.4 1001.0h13.2v2.5h-13.2zM580.8 1001.0h2.2v2.5h-2.2zM473.0 1003.2h6.6v2.5h-6.6zM481.8 1003.2h6.6v2.5h-6.6zM536.8 1003.2h6.6v2.5h-6.6zM552.2 1003.2h11.0v2.5h-11.0zM567.6 1003.2h8.8v2.5h-8.8zM470.8 1005.4h6.6v2.5h-6.6zM481.8 1005.4h15.4v2.5h-15.4zM539.0 1005.4h4.4v2.5h-4.4zM554.4 1005.4h11.0v2.5h-11.0zM574.2 1005.4h2.2v2.5h-2.2zM693.0 1005.4h2.2v2.5h-2.2zM470.8 1007.6h4.4v2.5h-4.4zM479.6 1007.6h19.8v2.5h-19.8zM561.0 1007.6h4.4v2.5h-4.4zM693.0 1007.6h4.4v2.5h-4.4zM470.8 1009.8h2.2v2.5h-2.2zM479.6 1009.8h8.8v2.5h-8.8zM490.6 1009.8h8.8v2.5h-8.8zM503.8 1009.8h13.2v2.5h-13.2zM558.8 1009.8h8.8v2.5h-8.8zM479.6 1012.0h6.6v2.5h-6.6zM490.6 1012.0h8.8v2.5h-8.8zM503.8 1012.0h15.4v2.5h-15.4zM530.2 1012.0h4.4v2.5h-4.4zM550.0 1012.0h2.2v2.5h-2.2zM558.8 1012.0h13.2v2.5h-13.2zM671.0 1012.0h4.4v2.5h-4.4zM481.8 1014.2h4.4v2.5h-4.4zM492.8 1014.2h4.4v2.5h-4.4zM503.8 1014.2h17.6v2.5h-17.6zM528.0 1014.2h8.8v2.5h-8.8zM550.0 1014.2h4.4v2.5h-4.4zM561.0 1014.2h6.6v2.5h-6.6zM569.8 1014.2h4.4v2.5h-4.4zM671.0 1014.2h2.2v2.5h-2.2zM475.2 1016.4h13.2v2.5h-13.2zM503.8 1016.4h33.0v2.5h-33.0zM550.0 1016.4h2.2v2.5h-2.2zM561.0 1016.4h6.6v2.5h-6.6zM569.8 1016.4h4.4v2.5h-4.4zM477.4 1018.6h13.2v2.5h-13.2zM497.2 1018.6h33.0v2.5h-33.0zM532.4 1018.6h4.4v2.5h-4.4zM550.0 1018.6h2.2v2.5h-2.2zM563.2 1018.6h13.2v2.5h-13.2zM578.6 1018.6h2.2v2.5h-2.2zM477.4 1020.8h2.2v2.5h-2.2zM484.0 1020.8h8.8v2.5h-8.8zM497.2 1020.8h22.0v2.5h-22.0zM521.4 1020.8h8.8v2.5h-8.8zM563.2 1020.8h19.8v2.5h-19.8zM477.4 1023.0h2.2v2.5h-2.2zM484.0 1023.0h11.0v2.5h-11.0zM497.2 1023.0h19.8v2.5h-19.8zM521.4 1023.0h8.8v2.5h-8.8zM539.0 1023.0h6.6v2.5h-6.6zM565.4 1023.0h15.4v2.5h-15.4zM477.4 1025.2h17.6v2.5h-17.6zM499.4 1025.2h15.4v2.5h-15.4zM521.4 1025.2h13.2v2.5h-13.2zM536.8 1025.2h6.6v2.5h-6.6zM554.4 1025.2h4.4v2.5h-4.4zM569.8 1025.2h11.0v2.5h-11.0zM479.6 1027.4h17.6v2.5h-17.6zM501.6 1027.4h13.2v2.5h-13.2zM519.2 1027.4h15.4v2.5h-15.4zM536.8 1027.4h4.4v2.5h-4.4zM554.4 1027.4h6.6v2.5h-6.6zM569.8 1027.4h2.2v2.5h-2.2zM576.4 1027.4h4.4v2.5h-4.4zM473.0 1029.6h2.2v2.5h-2.2zM479.6 1029.6h2.2v2.5h-2.2zM484.0 1029.6h13.2v2.5h-13.2zM501.6 1029.6h13.2v2.5h-13.2zM517.0 1029.6h17.6v2.5h-17.6zM536.8 1029.6h4.4v2.5h-4.4zM552.2 1029.6h11.0v2.5h-11.0zM569.8 1029.6h2.2v2.5h-2.2zM578.6 1029.6h2.2v2.5h-2.2zM473.0 1031.8h8.8v2.5h-8.8zM484.0 1031.8h6.6v2.5h-6.6zM492.8 1031.8h22.0v2.5h-22.0zM517.0 1031.8h26.4v2.5h-26.4zM552.2 1031.8h6.6v2.5h-6.6zM565.4 1031.8h6.6v2.5h-6.6zM470.8 1034.0h8.8v2.5h-8.8zM484.0 1034.0h4.4v2.5h-4.4zM492.8 1034.0h6.6v2.5h-6.6zM508.2 1034.0h6.6v2.5h-6.6zM517.0 1034.0h8.8v2.5h-8.8zM528.0 1034.0h17.6v2.5h-17.6zM554.4 1034.0h4.4v2.5h-4.4zM565.4 1034.0h6.6v2.5h-6.6zM470.8 1036.2h4.4v2.5h-4.4zM481.8 1036.2h15.4v2.5h-15.4zM510.4 1036.2h2.2v2.5h-2.2zM519.2 1036.2h6.6v2.5h-6.6zM530.2 1036.2h11.0v2.5h-11.0zM556.6 1036.2h2.2v2.5h-2.2zM565.4 1036.2h4.4v2.5h-4.4zM470.8 1038.4h4.4v2.5h-4.4zM481.8 1038.4h6.6v2.5h-6.6zM492.8 1038.4h4.4v2.5h-4.4zM503.8 1038.4h6.6v2.5h-6.6zM519.2 1038.4h8.8v2.5h-8.8zM532.4 1038.4h6.6v2.5h-6.6zM565.4 1038.4h4.4v2.5h-4.4zM451.0 1040.6h2.2v2.5h-2.2zM470.8 1040.6h6.6v2.5h-6.6zM479.6 1040.6h8.8v2.5h-8.8zM495.0 1040.6h2.2v2.5h-2.2zM499.4 1040.6h11.0v2.5h-11.0zM517.0 1040.6h8.8v2.5h-8.8zM532.4 1040.6h4.4v2.5h-4.4zM563.2 1040.6h8.8v2.5h-8.8zM451.0 1042.8h2.2v2.5h-2.2zM473.0 1042.8h13.2v2.5h-13.2zM499.4 1042.8h19.8v2.5h-19.8zM563.2 1042.8h13.2v2.5h-13.2zM473.0 1045.0h11.0v2.5h-11.0zM497.2 1045.0h22.0v2.5h-22.0zM547.8 1045.0h4.4v2.5h-4.4zM558.8 1045.0h6.6v2.5h-6.6zM572.0 1045.0h4.4v2.5h-4.4zM462.0 1047.2h2.2v2.5h-2.2zM468.6 1047.2h6.6v2.5h-6.6zM477.4 1047.2h4.4v2.5h-4.4zM495.0 1047.2h19.8v2.5h-19.8zM525.8 1047.2h4.4v2.5h-4.4zM545.6 1047.2h6.6v2.5h-6.6zM558.8 1047.2h6.6v2.5h-6.6zM572.0 1047.2h6.6v2.5h-6.6zM462.0 1049.4h15.4v2.5h-15.4zM481.8 1049.4h8.8v2.5h-8.8zM492.8 1049.4h13.2v2.5h-13.2zM510.4 1049.4h4.4v2.5h-4.4zM525.8 1049.4h4.4v2.5h-4.4zM543.4 1049.4h8.8v2.5h-8.8zM556.6 1049.4h11.0v2.5h-11.0zM574.2 1049.4h4.4v2.5h-4.4zM459.8 1051.6h17.6v2.5h-17.6zM481.8 1051.6h15.4v2.5h-15.4zM501.6 1051.6h2.2v2.5h-2.2zM510.4 1051.6h4.4v2.5h-4.4zM550.0 1051.6h6.6v2.5h-6.6zM563.2 1051.6h17.6v2.5h-17.6zM453.2 1053.8h4.4v2.5h-4.4zM459.8 1053.8h17.6v2.5h-17.6zM479.6 1053.8h33.0v2.5h-33.0zM552.2 1053.8h4.4v2.5h-4.4zM563.2 1053.8h13.2v2.5h-13.2zM657.8 1053.8h4.4v2.5h-4.4zM338.8 1056.0h2.2v2.5h-2.2zM462.0 1056.0h13.2v2.5h-13.2zM479.6 1056.0h30.8v2.5h-30.8zM552.2 1056.0h2.2v2.5h-2.2zM563.2 1056.0h2.2v2.5h-2.2zM567.6 1056.0h8.8v2.5h-8.8zM660.0 1056.0h4.4v2.5h-4.4zM336.6 1058.2h4.4v2.5h-4.4zM466.4 1058.2h8.8v2.5h-8.8zM479.6 1058.2h30.8v2.5h-30.8zM512.6 1058.2h4.4v2.5h-4.4zM561.0 1058.2h4.4v2.5h-4.4zM569.8 1058.2h6.6v2.5h-6.6zM446.6 1060.4h2.2v2.5h-2.2zM464.2 1060.4h11.0v2.5h-11.0zM477.4 1060.4h39.6v2.5h-39.6zM567.6 1060.4h6.6v2.5h-6.6zM444.4 1062.6h6.6v2.5h-6.6zM457.6 1062.6h2.2v2.5h-2.2zM464.2 1062.6h8.8v2.5h-8.8zM477.4 1062.6h35.2v2.5h-35.2zM528.0 1062.6h2.2v2.5h-2.2zM554.4 1062.6h4.4v2.5h-4.4zM565.4 1062.6h6.6v2.5h-6.6zM583.0 1062.6h2.2v2.5h-2.2zM587.4 1062.6h2.2v2.5h-2.2zM433.4 1064.8h6.6v2.5h-6.6zM444.4 1064.8h17.6v2.5h-17.6zM464.2 1064.8h8.8v2.5h-8.8zM477.4 1064.8h33.0v2.5h-33.0zM556.6 1064.8h4.4v2.5h-4.4zM567.6 1064.8h4.4v2.5h-4.4zM576.4 1064.8h2.2v2.5h-2.2zM583.0 1064.8h4.4v2.5h-4.4zM444.4 1067.0h11.0v2.5h-11.0zM457.6 1067.0h55.0v2.5h-55.0zM514.8 1067.0h2.2v2.5h-2.2zM556.6 1067.0h6.6v2.5h-6.6zM576.4 1067.0h4.4v2.5h-4.4zM583.0 1067.0h2.2v2.5h-2.2zM442.2 1069.2h13.2v2.5h-13.2zM457.6 1069.2h24.2v2.5h-24.2zM484.0 1069.2h33.0v2.5h-33.0zM554.4 1069.2h11.0v2.5h-11.0zM576.4 1069.2h4.4v2.5h-4.4zM442.2 1071.4h13.2v2.5h-13.2zM457.6 1071.4h24.2v2.5h-24.2zM486.2 1071.4h30.8v2.5h-30.8zM530.2 1071.4h4.4v2.5h-4.4zM554.4 1071.4h4.4v2.5h-4.4zM561.0 1071.4h6.6v2.5h-6.6zM578.6 1071.4h4.4v2.5h-4.4zM589.6 1071.4h2.2v2.5h-2.2zM435.6 1073.6h2.2v2.5h-2.2zM442.2 1073.6h4.4v2.5h-4.4zM448.8 1073.6h4.4v2.5h-4.4zM457.6 1073.6h61.6v2.5h-61.6zM528.0 1073.6h6.6v2.5h-6.6zM556.6 1073.6h2.2v2.5h-2.2zM561.0 1073.6h28.6v2.5h-28.6zM391.6 1075.8h2.2v2.5h-2.2zM457.6 1075.8h8.8v2.5h-8.8zM470.8 1075.8h44.0v2.5h-44.0zM517.0 1075.8h6.6v2.5h-6.6zM525.8 1075.8h8.8v2.5h-8.8zM563.2 1075.8h24.2v2.5h-24.2zM391.6 1078.0h2.2v2.5h-2.2zM446.6 1078.0h6.6v2.5h-6.6zM459.8 1078.0h6.6v2.5h-6.6zM470.8 1078.0h19.8v2.5h-19.8zM492.8 1078.0h22.0v2.5h-22.0zM519.2 1078.0h4.4v2.5h-4.4zM528.0 1078.0h4.4v2.5h-4.4zM552.2 1078.0h4.4v2.5h-4.4zM563.2 1078.0h33.0v2.5h-33.0zM426.8 1080.2h6.6v2.5h-6.6zM435.6 1080.2h30.8v2.5h-30.8zM468.6 1080.2h22.0v2.5h-22.0zM495.0 1080.2h6.6v2.5h-6.6zM506.0 1080.2h2.2v2.5h-2.2zM510.4 1080.2h13.2v2.5h-13.2zM550.0 1080.2h6.6v2.5h-6.6zM563.2 1080.2h28.6v2.5h-28.6zM429.0 1082.4h61.6v2.5h-61.6zM503.8 1082.4h2.2v2.5h-2.2zM510.4 1082.4h13.2v2.5h-13.2zM550.0 1082.4h8.8v2.5h-8.8zM561.0 1082.4h22.0v2.5h-22.0zM356.4 1084.6h6.6v2.5h-6.6zM429.0 1084.6h2.2v2.5h-2.2zM437.8 1084.6h41.8v2.5h-41.8zM484.0 1084.6h4.4v2.5h-4.4zM503.8 1084.6h39.6v2.5h-39.6zM547.8 1084.6h35.2v2.5h-35.2zM356.4 1086.8h4.4v2.5h-4.4zM396.0 1086.8h6.6v2.5h-6.6zM444.4 1086.8h19.8v2.5h-19.8zM473.0 1086.8h6.6v2.5h-6.6zM484.0 1086.8h4.4v2.5h-4.4zM503.8 1086.8h8.8v2.5h-8.8zM519.2 1086.8h26.4v2.5h-26.4zM547.8 1086.8h33.0v2.5h-33.0zM587.4 1086.8h6.6v2.5h-6.6zM352.0 1089.0h8.8v2.5h-8.8zM396.0 1089.0h8.8v2.5h-8.8zM435.6 1089.0h6.6v2.5h-6.6zM444.4 1089.0h11.0v2.5h-11.0zM475.2 1089.0h4.4v2.5h-4.4zM484.0 1089.0h2.2v2.5h-2.2zM501.6 1089.0h11.0v2.5h-11.0zM523.6 1089.0h28.6v2.5h-28.6zM554.4 1089.0h22.0v2.5h-22.0zM585.2 1089.0h8.8v2.5h-8.8zM352.0 1091.2h2.2v2.5h-2.2zM435.6 1091.2h17.6v2.5h-17.6zM475.2 1091.2h4.4v2.5h-4.4zM497.2 1091.2h17.6v2.5h-17.6zM523.6 1091.2h8.8v2.5h-8.8zM534.6 1091.2h15.4v2.5h-15.4zM565.4 1091.2h8.8v2.5h-8.8zM585.2 1091.2h8.8v2.5h-8.8zM433.4 1093.4h19.8v2.5h-19.8zM477.4 1093.4h2.2v2.5h-2.2zM495.0 1093.4h19.8v2.5h-19.8zM521.4 1093.4h19.8v2.5h-19.8zM545.6 1093.4h6.6v2.5h-6.6zM554.4 1093.4h8.8v2.5h-8.8zM565.4 1093.4h4.4v2.5h-4.4zM578.6 1093.4h11.0v2.5h-11.0zM431.2 1095.6h19.8v2.5h-19.8zM459.8 1095.6h4.4v2.5h-4.4zM468.6 1095.6h4.4v2.5h-4.4zM475.2 1095.6h6.6v2.5h-6.6zM495.0 1095.6h19.8v2.5h-19.8zM519.2 1095.6h22.0v2.5h-22.0zM547.8 1095.6h2.2v2.5h-2.2zM552.2 1095.6h17.6v2.5h-17.6zM431.2 1097.8h22.0v2.5h-22.0zM459.8 1097.8h4.4v2.5h-4.4zM468.6 1097.8h11.0v2.5h-11.0zM492.8 1097.8h22.0v2.5h-22.0zM519.2 1097.8h22.0v2.5h-22.0zM554.4 1097.8h6.6v2.5h-6.6zM565.4 1097.8h2.2v2.5h-2.2zM358.6 1100.0h2.2v2.5h-2.2zM367.4 1100.0h4.4v2.5h-4.4zM431.2 1100.0h4.4v2.5h-4.4zM437.8 1100.0h15.4v2.5h-15.4zM459.8 1100.0h4.4v2.5h-4.4zM468.6 1100.0h4.4v2.5h-4.4zM475.2 1100.0h4.4v2.5h-4.4zM490.6 1100.0h26.4v2.5h-26.4zM519.2 1100.0h24.2v2.5h-24.2zM554.4 1100.0h6.6v2.5h-6.6zM572.0 1100.0h4.4v2.5h-4.4zM354.2 1102.2h6.6v2.5h-6.6zM391.6 1102.2h4.4v2.5h-4.4zM418.0 1102.2h4.4v2.5h-4.4zM429.0 1102.2h6.6v2.5h-6.6zM440.0 1102.2h15.4v2.5h-15.4zM459.8 1102.2h4.4v2.5h-4.4zM490.6 1102.2h6.6v2.5h-6.6zM501.6 1102.2h2.2v2.5h-2.2zM510.4 1102.2h6.6v2.5h-6.6zM521.4 1102.2h24.2v2.5h-24.2zM547.8 1102.2h6.6v2.5h-6.6zM569.8 1102.2h6.6v2.5h-6.6zM354.2 1104.4h4.4v2.5h-4.4zM402.6 1104.4h2.2v2.5h-2.2zM418.0 1104.4h4.4v2.5h-4.4zM431.2 1104.4h33.0v2.5h-33.0zM486.2 1104.4h8.8v2.5h-8.8zM512.6 1104.4h6.6v2.5h-6.6zM525.8 1104.4h4.4v2.5h-4.4zM534.6 1104.4h11.0v2.5h-11.0zM547.8 1104.4h6.6v2.5h-6.6zM569.8 1104.4h6.6v2.5h-6.6zM580.8 1104.4h4.4v2.5h-4.4zM418.0 1106.6h2.2v2.5h-2.2zM435.6 1106.6h24.2v2.5h-24.2zM486.2 1106.6h8.8v2.5h-8.8zM514.8 1106.6h6.6v2.5h-6.6zM523.6 1106.6h6.6v2.5h-6.6zM536.8 1106.6h8.8v2.5h-8.8zM550.0 1106.6h4.4v2.5h-4.4zM572.0 1106.6h2.2v2.5h-2.2zM580.8 1106.6h2.2v2.5h-2.2zM407.0 1108.8h11.0v2.5h-11.0zM435.6 1108.8h15.4v2.5h-15.4zM453.2 1108.8h6.6v2.5h-6.6zM486.2 1108.8h6.6v2.5h-6.6zM497.2 1108.8h11.0v2.5h-11.0zM514.8 1108.8h17.6v2.5h-17.6zM536.8 1108.8h17.6v2.5h-17.6zM589.6 1108.8h4.4v2.5h-4.4zM407.0 1111.0h8.8v2.5h-8.8zM435.6 1111.0h15.4v2.5h-15.4zM455.4 1111.0h4.4v2.5h-4.4zM486.2 1111.0h4.4v2.5h-4.4zM495.0 1111.0h15.4v2.5h-15.4zM514.8 1111.0h6.6v2.5h-6.6zM525.8 1111.0h6.6v2.5h-6.6zM536.8 1111.0h26.4v2.5h-26.4zM578.6 1111.0h4.4v2.5h-4.4zM589.6 1111.0h2.2v2.5h-2.2zM404.8 1113.2h6.6v2.5h-6.6zM433.4 1113.2h11.0v2.5h-11.0zM455.4 1113.2h11.0v2.5h-11.0zM488.4 1113.2h6.6v2.5h-6.6zM501.6 1113.2h6.6v2.5h-6.6zM514.8 1113.2h4.4v2.5h-4.4zM528.0 1113.2h4.4v2.5h-4.4zM539.0 1113.2h22.0v2.5h-22.0zM578.6 1113.2h4.4v2.5h-4.4zM404.8 1115.4h4.4v2.5h-4.4zM424.6 1115.4h15.4v2.5h-15.4zM453.2 1115.4h15.4v2.5h-15.4zM490.6 1115.4h2.2v2.5h-2.2zM501.6 1115.4h2.2v2.5h-2.2zM506.0 1115.4h2.2v2.5h-2.2zM528.0 1115.4h4.4v2.5h-4.4zM541.2 1115.4h19.8v2.5h-19.8zM576.4 1115.4h8.8v2.5h-8.8zM391.6 1117.6h2.2v2.5h-2.2zM418.0 1117.6h19.8v2.5h-19.8zM451.0 1117.6h4.4v2.5h-4.4zM462.0 1117.6h6.6v2.5h-6.6zM490.6 1117.6h2.2v2.5h-2.2zM499.4 1117.6h4.4v2.5h-4.4zM525.8 1117.6h8.8v2.5h-8.8zM541.2 1117.6h6.6v2.5h-6.6zM552.2 1117.6h11.0v2.5h-11.0zM576.4 1117.6h11.0v2.5h-11.0zM391.6 1119.8h2.2v2.5h-2.2zM415.8 1119.8h19.8v2.5h-19.8zM444.4 1119.8h11.0v2.5h-11.0zM462.0 1119.8h2.2v2.5h-2.2zM477.4 1119.8h2.2v2.5h-2.2zM486.2 1119.8h4.4v2.5h-4.4zM497.2 1119.8h4.4v2.5h-4.4zM519.2 1119.8h4.4v2.5h-4.4zM525.8 1119.8h8.8v2.5h-8.8zM554.4 1119.8h8.8v2.5h-8.8zM565.4 1119.8h4.4v2.5h-4.4zM574.2 1119.8h13.2v2.5h-13.2zM415.8 1122.0h6.6v2.5h-6.6zM424.6 1122.0h11.0v2.5h-11.0zM444.4 1122.0h11.0v2.5h-11.0zM481.8 1122.0h8.8v2.5h-8.8zM519.2 1122.0h4.4v2.5h-4.4zM525.8 1122.0h13.2v2.5h-13.2zM545.6 1122.0h2.2v2.5h-2.2zM554.4 1122.0h8.8v2.5h-8.8zM572.0 1122.0h17.6v2.5h-17.6zM415.8 1124.2h6.6v2.5h-6.6zM429.0 1124.2h8.8v2.5h-8.8zM444.4 1124.2h2.2v2.5h-2.2zM451.0 1124.2h6.6v2.5h-6.6zM484.0 1124.2h8.8v2.5h-8.8zM510.4 1124.2h2.2v2.5h-2.2zM519.2 1124.2h6.6v2.5h-6.6zM528.0 1124.2h13.2v2.5h-13.2zM543.4 1124.2h2.2v2.5h-2.2zM554.4 1124.2h8.8v2.5h-8.8zM572.0 1124.2h11.0v2.5h-11.0zM585.2 1124.2h6.6v2.5h-6.6zM398.2 1126.4h6.6v2.5h-6.6zM413.6 1126.4h6.6v2.5h-6.6zM426.8 1126.4h11.0v2.5h-11.0zM444.4 1126.4h2.2v2.5h-2.2zM451.0 1126.4h8.8v2.5h-8.8zM486.2 1126.4h6.6v2.5h-6.6zM519.2 1126.4h6.6v2.5h-6.6zM528.0 1126.4h15.4v2.5h-15.4zM552.2 1126.4h8.8v2.5h-8.8zM574.2 1126.4h6.6v2.5h-6.6zM587.4 1126.4h4.4v2.5h-4.4zM398.2 1128.6h15.4v2.5h-15.4zM415.8 1128.6h4.4v2.5h-4.4zM426.8 1128.6h11.0v2.5h-11.0zM444.4 1128.6h4.4v2.5h-4.4zM451.0 1128.6h6.6v2.5h-6.6zM486.2 1128.6h6.6v2.5h-6.6zM517.0 1128.6h8.8v2.5h-8.8zM532.4 1128.6h8.8v2.5h-8.8zM552.2 1128.6h8.8v2.5h-8.8zM574.2 1128.6h6.6v2.5h-6.6zM589.6 1128.6h2.2v2.5h-2.2zM382.8 1130.8h2.2v2.5h-2.2zM391.6 1130.8h4.4v2.5h-4.4zM400.4 1130.8h13.2v2.5h-13.2zM418.0 1130.8h22.0v2.5h-22.0zM442.2 1130.8h15.4v2.5h-15.4zM486.2 1130.8h6.6v2.5h-6.6zM514.8 1130.8h8.8v2.5h-8.8zM536.8 1130.8h4.4v2.5h-4.4zM543.4 1130.8h4.4v2.5h-4.4zM552.2 1130.8h17.6v2.5h-17.6zM574.2 1130.8h2.2v2.5h-2.2zM389.4 1133.0h4.4v2.5h-4.4zM398.2 1133.0h59.4v2.5h-59.4zM486.2 1133.0h6.6v2.5h-6.6zM512.6 1133.0h8.8v2.5h-8.8zM525.8 1133.0h4.4v2.5h-4.4zM536.8 1133.0h2.2v2.5h-2.2zM550.0 1133.0h26.4v2.5h-26.4zM387.2 1135.2h6.6v2.5h-6.6zM398.2 1135.2h57.2v2.5h-57.2zM464.2 1135.2h8.8v2.5h-8.8zM488.4 1135.2h2.2v2.5h-2.2zM510.4 1135.2h8.8v2.5h-8.8zM525.8 1135.2h6.6v2.5h-6.6zM534.6 1135.2h6.6v2.5h-6.6zM550.0 1135.2h6.6v2.5h-6.6zM558.8 1135.2h17.6v2.5h-17.6zM389.4 1137.4h6.6v2.5h-6.6zM398.2 1137.4h30.8v2.5h-30.8zM435.6 1137.4h17.6v2.5h-17.6zM466.4 1137.4h6.6v2.5h-6.6zM508.2 1137.4h6.6v2.5h-6.6zM525.8 1137.4h6.6v2.5h-6.6zM534.6 1137.4h6.6v2.5h-6.6zM543.4 1137.4h4.4v2.5h-4.4zM550.0 1137.4h4.4v2.5h-4.4zM563.2 1137.4h8.8v2.5h-8.8zM574.2 1137.4h4.4v2.5h-4.4zM398.2 1139.6h22.0v2.5h-22.0zM435.6 1139.6h13.2v2.5h-13.2zM466.4 1139.6h4.4v2.5h-4.4zM497.2 1139.6h4.4v2.5h-4.4zM506.0 1139.6h8.8v2.5h-8.8zM534.6 1139.6h4.4v2.5h-4.4zM543.4 1139.6h4.4v2.5h-4.4zM565.4 1139.6h6.6v2.5h-6.6zM574.2 1139.6h4.4v2.5h-4.4zM398.2 1141.8h4.4v2.5h-4.4zM407.0 1141.8h13.2v2.5h-13.2zM437.8 1141.8h11.0v2.5h-11.0zM455.4 1141.8h4.4v2.5h-4.4zM466.4 1141.8h4.4v2.5h-4.4zM473.0 1141.8h11.0v2.5h-11.0zM488.4 1141.8h2.2v2.5h-2.2zM497.2 1141.8h15.4v2.5h-15.4zM532.4 1141.8h6.6v2.5h-6.6zM543.4 1141.8h2.2v2.5h-2.2zM556.6 1141.8h4.4v2.5h-4.4zM567.6 1141.8h4.4v2.5h-4.4zM576.4 1141.8h2.2v2.5h-2.2zM407.0 1144.0h15.4v2.5h-15.4zM424.6 1144.0h2.2v2.5h-2.2zM440.0 1144.0h6.6v2.5h-6.6zM455.4 1144.0h4.4v2.5h-4.4zM464.2 1144.0h6.6v2.5h-6.6zM473.0 1144.0h8.8v2.5h-8.8zM497.2 1144.0h4.4v2.5h-4.4zM506.0 1144.0h6.6v2.5h-6.6zM517.0 1144.0h6.6v2.5h-6.6zM530.2 1144.0h41.8v2.5h-41.8zM393.8 1146.2h2.2v2.5h-2.2zM398.2 1146.2h15.4v2.5h-15.4zM418.0 1146.2h6.6v2.5h-6.6zM431.2 1146.2h2.2v2.5h-2.2zM442.2 1146.2h4.4v2.5h-4.4zM455.4 1146.2h13.2v2.5h-13.2zM473.0 1146.2h8.8v2.5h-8.8zM497.2 1146.2h4.4v2.5h-4.4zM506.0 1146.2h4.4v2.5h-4.4zM514.8 1146.2h57.2v2.5h-57.2zM387.2 1148.4h17.6v2.5h-17.6zM407.0 1148.4h6.6v2.5h-6.6zM418.0 1148.4h6.6v2.5h-6.6zM431.2 1148.4h2.2v2.5h-2.2zM440.0 1148.4h2.2v2.5h-2.2zM455.4 1148.4h13.2v2.5h-13.2zM473.0 1148.4h8.8v2.5h-8.8zM484.0 1148.4h4.4v2.5h-4.4zM499.4 1148.4h4.4v2.5h-4.4zM506.0 1148.4h22.0v2.5h-22.0zM530.2 1148.4h44.0v2.5h-44.0zM382.8 1150.6h24.2v2.5h-24.2zM415.8 1150.6h11.0v2.5h-11.0zM431.2 1150.6h2.2v2.5h-2.2zM440.0 1150.6h2.2v2.5h-2.2zM462.0 1150.6h8.8v2.5h-8.8zM473.0 1150.6h15.4v2.5h-15.4zM499.4 1150.6h4.4v2.5h-4.4zM506.0 1150.6h30.8v2.5h-30.8zM541.2 1150.6h30.8v2.5h-30.8zM580.8 1150.6h6.6v2.5h-6.6zM374.0 1152.8h2.2v2.5h-2.2zM382.8 1152.8h24.2v2.5h-24.2zM415.8 1152.8h11.0v2.5h-11.0zM431.2 1152.8h11.0v2.5h-11.0zM446.6 1152.8h6.6v2.5h-6.6zM462.0 1152.8h26.4v2.5h-26.4zM506.0 1152.8h33.0v2.5h-33.0zM543.4 1152.8h2.2v2.5h-2.2zM567.6 1152.8h4.4v2.5h-4.4zM371.8 1155.0h6.6v2.5h-6.6zM382.8 1155.0h4.4v2.5h-4.4zM389.4 1155.0h17.6v2.5h-17.6zM413.6 1155.0h13.2v2.5h-13.2zM431.2 1155.0h22.0v2.5h-22.0zM459.8 1155.0h11.0v2.5h-11.0zM473.0 1155.0h13.2v2.5h-13.2zM495.0 1155.0h2.2v2.5h-2.2zM506.0 1155.0h35.2v2.5h-35.2zM569.8 1155.0h2.2v2.5h-2.2zM371.8 1157.2h35.2v2.5h-35.2zM413.6 1157.2h2.2v2.5h-2.2zM418.0 1157.2h6.6v2.5h-6.6zM431.2 1157.2h22.0v2.5h-22.0zM464.2 1157.2h4.4v2.5h-4.4zM475.2 1157.2h11.0v2.5h-11.0zM488.4 1157.2h2.2v2.5h-2.2zM495.0 1157.2h4.4v2.5h-4.4zM503.8 1157.2h37.4v2.5h-37.4zM374.0 1159.4h8.8v2.5h-8.8zM387.2 1159.4h19.8v2.5h-19.8zM413.6 1159.4h11.0v2.5h-11.0zM431.2 1159.4h22.0v2.5h-22.0zM462.0 1159.4h28.6v2.5h-28.6zM495.0 1159.4h2.2v2.5h-2.2zM506.0 1159.4h33.0v2.5h-33.0zM376.2 1161.6h2.2v2.5h-2.2zM387.2 1161.6h19.8v2.5h-19.8zM411.4 1161.6h15.4v2.5h-15.4zM437.8 1161.6h2.2v2.5h-2.2zM446.6 1161.6h6.6v2.5h-6.6zM457.6 1161.6h33.0v2.5h-33.0zM506.0 1161.6h28.6v2.5h-28.6zM543.4 1161.6h2.2v2.5h-2.2zM563.2 1161.6h4.4v2.5h-4.4zM578.6 1161.6h4.4v2.5h-4.4zM389.4 1163.8h4.4v2.5h-4.4zM400.4 1163.8h6.6v2.5h-6.6zM413.6 1163.8h13.2v2.5h-13.2zM435.6 1163.8h6.6v2.5h-6.6zM444.4 1163.8h8.8v2.5h-8.8zM455.4 1163.8h19.8v2.5h-19.8zM481.8 1163.8h8.8v2.5h-8.8zM503.8 1163.8h4.4v2.5h-4.4zM512.6 1163.8h19.8v2.5h-19.8zM563.2 1163.8h4.4v2.5h-4.4zM576.4 1163.8h8.8v2.5h-8.8zM387.2 1166.0h4.4v2.5h-4.4zM402.6 1166.0h4.4v2.5h-4.4zM411.4 1166.0h15.4v2.5h-15.4zM435.6 1166.0h22.0v2.5h-22.0zM462.0 1166.0h13.2v2.5h-13.2zM481.8 1166.0h8.8v2.5h-8.8zM497.2 1166.0h2.2v2.5h-2.2zM503.8 1166.0h28.6v2.5h-28.6zM547.8 1166.0h2.2v2.5h-2.2zM565.4 1166.0h2.2v2.5h-2.2zM576.4 1166.0h8.8v2.5h-8.8zM387.2 1168.2h2.2v2.5h-2.2zM409.2 1168.2h6.6v2.5h-6.6zM418.0 1168.2h6.6v2.5h-6.6zM435.6 1168.2h22.0v2.5h-22.0zM462.0 1168.2h13.2v2.5h-13.2zM481.8 1168.2h6.6v2.5h-6.6zM492.8 1168.2h6.6v2.5h-6.6zM503.8 1168.2h6.6v2.5h-6.6zM512.6 1168.2h19.8v2.5h-19.8zM547.8 1168.2h8.8v2.5h-8.8zM578.6 1168.2h6.6v2.5h-6.6zM385.0 1170.4h2.2v2.5h-2.2zM402.6 1170.4h13.2v2.5h-13.2zM422.4 1170.4h2.2v2.5h-2.2zM435.6 1170.4h22.0v2.5h-22.0zM462.0 1170.4h15.4v2.5h-15.4zM481.8 1170.4h6.6v2.5h-6.6zM492.8 1170.4h6.6v2.5h-6.6zM501.6 1170.4h8.8v2.5h-8.8zM512.6 1170.4h17.6v2.5h-17.6zM547.8 1170.4h8.8v2.5h-8.8zM580.8 1170.4h2.2v2.5h-2.2zM598.4 1170.4h2.2v2.5h-2.2zM378.4 1172.6h15.4v2.5h-15.4zM400.4 1172.6h15.4v2.5h-15.4zM424.6 1172.6h4.4v2.5h-4.4zM433.4 1172.6h66.0v2.5h-66.0zM501.6 1172.6h8.8v2.5h-8.8zM512.6 1172.6h4.4v2.5h-4.4zM519.2 1172.6h8.8v2.5h-8.8zM550.0 1172.6h8.8v2.5h-8.8zM569.8 1172.6h4.4v2.5h-4.4zM589.6 1172.6h2.2v2.5h-2.2zM596.2 1172.6h4.4v2.5h-4.4zM385.0 1174.8h4.4v2.5h-4.4zM398.2 1174.8h17.6v2.5h-17.6zM424.6 1174.8h26.4v2.5h-26.4zM453.2 1174.8h13.2v2.5h-13.2zM470.8 1174.8h19.8v2.5h-19.8zM495.0 1174.8h19.8v2.5h-19.8zM523.6 1174.8h6.6v2.5h-6.6zM532.4 1174.8h6.6v2.5h-6.6zM550.0 1174.8h13.2v2.5h-13.2zM567.6 1174.8h8.8v2.5h-8.8zM596.2 1174.8h4.4v2.5h-4.4zM400.4 1177.0h15.4v2.5h-15.4zM426.8 1177.0h24.2v2.5h-24.2zM453.2 1177.0h13.2v2.5h-13.2zM470.8 1177.0h17.6v2.5h-17.6zM499.4 1177.0h8.8v2.5h-8.8zM510.4 1177.0h4.4v2.5h-4.4zM523.6 1177.0h17.6v2.5h-17.6zM547.8 1177.0h15.4v2.5h-15.4zM567.6 1177.0h11.0v2.5h-11.0zM596.2 1177.0h2.2v2.5h-2.2zM602.8 1177.0h2.2v2.5h-2.2zM385.0 1179.2h4.4v2.5h-4.4zM393.8 1179.2h4.4v2.5h-4.4zM404.8 1179.2h11.0v2.5h-11.0zM426.8 1179.2h11.0v2.5h-11.0zM440.0 1179.2h8.8v2.5h-8.8zM453.2 1179.2h11.0v2.5h-11.0zM470.8 1179.2h17.6v2.5h-17.6zM501.6 1179.2h4.4v2.5h-4.4zM512.6 1179.2h6.6v2.5h-6.6zM521.4 1179.2h8.8v2.5h-8.8zM536.8 1179.2h6.6v2.5h-6.6zM547.8 1179.2h11.0v2.5h-11.0zM569.8 1179.2h11.0v2.5h-11.0zM587.4 1179.2h2.2v2.5h-2.2zM600.6 1179.2h6.6v2.5h-6.6zM382.8 1181.4h4.4v2.5h-4.4zM407.0 1181.4h8.8v2.5h-8.8zM426.8 1181.4h8.8v2.5h-8.8zM442.2 1181.4h4.4v2.5h-4.4zM453.2 1181.4h8.8v2.5h-8.8zM470.8 1181.4h11.0v2.5h-11.0zM492.8 1181.4h2.2v2.5h-2.2zM501.6 1181.4h4.4v2.5h-4.4zM514.8 1181.4h4.4v2.5h-4.4zM521.4 1181.4h8.8v2.5h-8.8zM539.0 1181.4h4.4v2.5h-4.4zM547.8 1181.4h8.8v2.5h-8.8zM569.8 1181.4h13.2v2.5h-13.2zM589.6 1181.4h2.2v2.5h-2.2zM598.4 1181.4h6.6v2.5h-6.6zM644.6 1181.4h2.2v2.5h-2.2zM398.2 1183.6h4.4v2.5h-4.4zM407.0 1183.6h6.6v2.5h-6.6zM424.6 1183.6h11.0v2.5h-11.0zM453.2 1183.6h6.6v2.5h-6.6zM464.2 1183.6h17.6v2.5h-17.6zM492.8 1183.6h8.8v2.5h-8.8zM525.8 1183.6h6.6v2.5h-6.6zM541.2 1183.6h4.4v2.5h-4.4zM547.8 1183.6h8.8v2.5h-8.8zM569.8 1183.6h8.8v2.5h-8.8zM583.0 1183.6h8.8v2.5h-8.8zM600.6 1183.6h2.2v2.5h-2.2zM644.6 1183.6h4.4v2.5h-4.4zM396.0 1185.8h6.6v2.5h-6.6zM407.0 1185.8h4.4v2.5h-4.4zM422.4 1185.8h13.2v2.5h-13.2zM451.0 1185.8h4.4v2.5h-4.4zM466.4 1185.8h15.4v2.5h-15.4zM492.8 1185.8h8.8v2.5h-8.8zM528.0 1185.8h4.4v2.5h-4.4zM541.2 1185.8h8.8v2.5h-8.8zM556.6 1185.8h2.2v2.5h-2.2zM567.6 1185.8h8.8v2.5h-8.8zM583.0 1185.8h8.8v2.5h-8.8zM644.6 1185.8h2.2v2.5h-2.2zM389.4 1188.0h2.2v2.5h-2.2zM396.0 1188.0h6.6v2.5h-6.6zM424.6 1188.0h11.0v2.5h-11.0zM444.4 1188.0h2.2v2.5h-2.2zM448.8 1188.0h6.6v2.5h-6.6zM468.6 1188.0h8.8v2.5h-8.8zM481.8 1188.0h4.4v2.5h-4.4zM495.0 1188.0h4.4v2.5h-4.4zM532.4 1188.0h13.2v2.5h-13.2zM556.6 1188.0h2.2v2.5h-2.2zM565.4 1188.0h6.6v2.5h-6.6zM576.4 1188.0h2.2v2.5h-2.2zM587.4 1188.0h6.6v2.5h-6.6zM387.2 1190.2h6.6v2.5h-6.6zM398.2 1190.2h4.4v2.5h-4.4zM411.4 1190.2h6.6v2.5h-6.6zM424.6 1190.2h2.2v2.5h-2.2zM431.2 1190.2h4.4v2.5h-4.4zM442.2 1190.2h13.2v2.5h-13.2zM468.6 1190.2h2.2v2.5h-2.2zM481.8 1190.2h4.4v2.5h-4.4zM506.0 1190.2h4.4v2.5h-4.4zM534.6 1190.2h8.8v2.5h-8.8zM554.4 1190.2h6.6v2.5h-6.6zM563.2 1190.2h8.8v2.5h-8.8zM576.4 1190.2h4.4v2.5h-4.4zM589.6 1190.2h8.8v2.5h-8.8zM389.4 1192.4h2.2v2.5h-2.2zM398.2 1192.4h4.4v2.5h-4.4zM411.4 1192.4h15.4v2.5h-15.4zM431.2 1192.4h4.4v2.5h-4.4zM442.2 1192.4h13.2v2.5h-13.2zM481.8 1192.4h4.4v2.5h-4.4zM506.0 1192.4h8.8v2.5h-8.8zM534.6 1192.4h2.2v2.5h-2.2zM554.4 1192.4h4.4v2.5h-4.4zM563.2 1192.4h8.8v2.5h-8.8zM578.6 1192.4h2.2v2.5h-2.2zM591.8 1192.4h8.8v2.5h-8.8zM400.4 1194.6h4.4v2.5h-4.4zM411.4 1194.6h15.4v2.5h-15.4zM429.0 1194.6h6.6v2.5h-6.6zM442.2 1194.6h15.4v2.5h-15.4zM479.6 1194.6h2.2v2.5h-2.2zM488.4 1194.6h8.8v2.5h-8.8zM508.2 1194.6h6.6v2.5h-6.6zM519.2 1194.6h6.6v2.5h-6.6zM536.8 1194.6h4.4v2.5h-4.4zM554.4 1194.6h4.4v2.5h-4.4zM565.4 1194.6h22.0v2.5h-22.0zM594.0 1194.6h6.6v2.5h-6.6zM400.4 1196.8h6.6v2.5h-6.6zM411.4 1196.8h22.0v2.5h-22.0zM446.6 1196.8h13.2v2.5h-13.2zM473.0 1196.8h2.2v2.5h-2.2zM477.4 1196.8h4.4v2.5h-4.4zM488.4 1196.8h6.6v2.5h-6.6zM499.4 1196.8h2.2v2.5h-2.2zM508.2 1196.8h6.6v2.5h-6.6zM519.2 1196.8h6.6v2.5h-6.6zM536.8 1196.8h6.6v2.5h-6.6zM547.8 1196.8h2.2v2.5h-2.2zM554.4 1196.8h2.2v2.5h-2.2zM563.2 1196.8h4.4v2.5h-4.4zM572.0 1196.8h17.6v2.5h-17.6zM402.6 1199.0h2.2v2.5h-2.2zM411.4 1199.0h17.6v2.5h-17.6zM448.8 1199.0h11.0v2.5h-11.0zM462.0 1199.0h19.8v2.5h-19.8zM497.2 1199.0h6.6v2.5h-6.6zM508.2 1199.0h8.8v2.5h-8.8zM521.4 1199.0h4.4v2.5h-4.4zM536.8 1199.0h6.6v2.5h-6.6zM554.4 1199.0h4.4v2.5h-4.4zM561.0 1199.0h6.6v2.5h-6.6zM572.0 1199.0h11.0v2.5h-11.0zM591.8 1199.0h6.6v2.5h-6.6zM409.2 1201.2h13.2v2.5h-13.2zM448.8 1201.2h8.8v2.5h-8.8zM475.2 1201.2h11.0v2.5h-11.0zM497.2 1201.2h8.8v2.5h-8.8zM512.6 1201.2h2.2v2.5h-2.2zM523.6 1201.2h2.2v2.5h-2.2zM536.8 1201.2h6.6v2.5h-6.6zM554.4 1201.2h15.4v2.5h-15.4zM574.2 1201.2h8.8v2.5h-8.8zM589.6 1201.2h6.6v2.5h-6.6zM409.2 1203.4h4.4v2.5h-4.4zM477.4 1203.4h11.0v2.5h-11.0zM495.0 1203.4h6.6v2.5h-6.6zM523.6 1203.4h2.2v2.5h-2.2zM536.8 1203.4h4.4v2.5h-4.4zM543.4 1203.4h2.2v2.5h-2.2zM554.4 1203.4h15.4v2.5h-15.4zM576.4 1203.4h4.4v2.5h-4.4zM589.6 1203.4h6.6v2.5h-6.6zM426.8 1205.6h2.2v2.5h-2.2zM473.0 1205.6h15.4v2.5h-15.4zM492.8 1205.6h6.6v2.5h-6.6zM514.8 1205.6h2.2v2.5h-2.2zM534.6 1205.6h4.4v2.5h-4.4zM554.4 1205.6h6.6v2.5h-6.6zM565.4 1205.6h4.4v2.5h-4.4zM574.2 1205.6h6.6v2.5h-6.6zM594.0 1205.6h6.6v2.5h-6.6zM424.6 1207.8h6.6v2.5h-6.6zM470.8 1207.8h17.6v2.5h-17.6zM492.8 1207.8h6.6v2.5h-6.6zM514.8 1207.8h4.4v2.5h-4.4zM534.6 1207.8h4.4v2.5h-4.4zM547.8 1207.8h2.2v2.5h-2.2zM574.2 1207.8h4.4v2.5h-4.4zM594.0 1207.8h8.8v2.5h-8.8zM365.2 1210.0h2.2v2.5h-2.2zM422.4 1210.0h8.8v2.5h-8.8zM448.8 1210.0h11.0v2.5h-11.0zM473.0 1210.0h26.4v2.5h-26.4zM514.8 1210.0h4.4v2.5h-4.4zM534.6 1210.0h4.4v2.5h-4.4zM574.2 1210.0h2.2v2.5h-2.2zM363.0 1212.2h4.4v2.5h-4.4zM422.4 1212.2h8.8v2.5h-8.8zM437.8 1212.2h4.4v2.5h-4.4zM448.8 1212.2h11.0v2.5h-11.0zM475.2 1212.2h24.2v2.5h-24.2zM514.8 1212.2h8.8v2.5h-8.8zM539.0 1212.2h2.2v2.5h-2.2zM572.0 1212.2h4.4v2.5h-4.4zM433.4 1214.4h11.0v2.5h-11.0zM448.8 1214.4h11.0v2.5h-11.0zM479.6 1214.4h6.6v2.5h-6.6zM492.8 1214.4h4.4v2.5h-4.4zM503.8 1214.4h2.2v2.5h-2.2zM514.8 1214.4h15.4v2.5h-15.4zM539.0 1214.4h4.4v2.5h-4.4zM574.2 1214.4h4.4v2.5h-4.4zM418.0 1216.6h4.4v2.5h-4.4zM431.2 1216.6h13.2v2.5h-13.2zM451.0 1216.6h2.2v2.5h-2.2zM479.6 1216.6h8.8v2.5h-8.8zM492.8 1216.6h2.2v2.5h-2.2zM517.0 1216.6h8.8v2.5h-8.8zM591.8 1216.6h2.2v2.5h-2.2zM418.0 1218.8h4.4v2.5h-4.4zM429.0 1218.8h4.4v2.5h-4.4zM440.0 1218.8h4.4v2.5h-4.4zM468.6 1218.8h4.4v2.5h-4.4zM479.6 1218.8h8.8v2.5h-8.8zM508.2 1218.8h6.6v2.5h-6.6zM521.4 1218.8h4.4v2.5h-4.4zM591.8 1218.8h2.2v2.5h-2.2zM418.0 1221.0h4.4v2.5h-4.4zM429.0 1221.0h2.2v2.5h-2.2zM440.0 1221.0h6.6v2.5h-6.6zM466.4 1221.0h4.4v2.5h-4.4zM479.6 1221.0h4.4v2.5h-4.4zM508.2 1221.0h6.6v2.5h-6.6zM521.4 1221.0h4.4v2.5h-4.4zM589.6 1221.0h2.2v2.5h-2.2zM442.2 1223.2h4.4v2.5h-4.4zM466.4 1223.2h2.2v2.5h-2.2zM477.4 1223.2h6.6v2.5h-6.6zM495.0 1223.2h2.2v2.5h-2.2zM501.6 1223.2h13.2v2.5h-13.2zM521.4 1223.2h8.8v2.5h-8.8zM422.4 1225.4h4.4v2.5h-4.4zM444.4 1225.4h4.4v2.5h-4.4zM464.2 1225.4h4.4v2.5h-4.4zM470.8 1225.4h19.8v2.5h-19.8zM492.8 1225.4h6.6v2.5h-6.6zM501.6 1225.4h13.2v2.5h-13.2zM523.6 1225.4h8.8v2.5h-8.8zM442.2 1227.6h39.6v2.5h-39.6zM486.2 1227.6h30.8v2.5h-30.8zM523.6 1227.6h11.0v2.5h-11.0zM442.2 1229.8h19.8v2.5h-19.8zM464.2 1229.8h6.6v2.5h-6.6zM481.8 1229.8h2.2v2.5h-2.2zM486.2 1229.8h15.4v2.5h-15.4zM512.6 1229.8h4.4v2.5h-4.4zM523.6 1229.8h8.8v2.5h-8.8zM534.6 1229.8h2.2v2.5h-2.2zM442.2 1232.0h17.6v2.5h-17.6zM470.8 1232.0h4.4v2.5h-4.4zM488.4 1232.0h17.6v2.5h-17.6zM517.0 1232.0h13.2v2.5h-13.2zM446.6 1234.2h13.2v2.5h-13.2zM470.8 1234.2h6.6v2.5h-6.6zM497.2 1234.2h8.8v2.5h-8.8zM517.0 1234.2h2.2v2.5h-2.2zM523.6 1234.2h8.8v2.5h-8.8zM541.2 1234.2h2.2v2.5h-2.2zM448.8 1236.4h15.4v2.5h-15.4zM473.0 1236.4h6.6v2.5h-6.6zM495.0 1236.4h11.0v2.5h-11.0zM523.6 1236.4h11.0v2.5h-11.0zM541.2 1236.4h4.4v2.5h-4.4zM448.8 1238.6h15.4v2.5h-15.4zM473.0 1238.6h8.8v2.5h-8.8zM492.8 1238.6h2.2v2.5h-2.2zM499.4 1238.6h13.2v2.5h-13.2zM523.6 1238.6h13.2v2.5h-13.2zM541.2 1238.6h2.2v2.5h-2.2zM453.2 1240.8h4.4v2.5h-4.4zM473.0 1240.8h6.6v2.5h-6.6zM486.2 1240.8h8.8v2.5h-8.8zM506.0 1240.8h11.0v2.5h-11.0zM523.6 1240.8h4.4v2.5h-4.4zM530.2 1240.8h4.4v2.5h-4.4zM455.4 1243.0h2.2v2.5h-2.2zM475.2 1243.0h6.6v2.5h-6.6zM488.4 1243.0h6.6v2.5h-6.6zM506.0 1243.0h11.0v2.5h-11.0zM523.6 1243.0h4.4v2.5h-4.4zM536.8 1243.0h4.4v2.5h-4.4zM464.2 1245.2h2.2v2.5h-2.2zM475.2 1245.2h11.0v2.5h-11.0zM490.6 1245.2h6.6v2.5h-6.6zM514.8 1245.2h2.2v2.5h-2.2zM521.4 1245.2h8.8v2.5h-8.8zM536.8 1245.2h4.4v2.5h-4.4zM464.2 1247.4h4.4v2.5h-4.4zM477.4 1247.4h11.0v2.5h-11.0zM492.8 1247.4h2.2v2.5h-2.2zM508.2 1247.4h2.2v2.5h-2.2zM517.0 1247.4h2.2v2.5h-2.2zM523.6 1247.4h6.6v2.5h-6.6zM464.2 1249.6h4.4v2.5h-4.4zM481.8 1249.6h6.6v2.5h-6.6zM506.0 1249.6h4.4v2.5h-4.4zM523.6 1249.6h6.6v2.5h-6.6zM457.6 1251.8h2.2v2.5h-2.2zM464.2 1251.8h4.4v2.5h-4.4zM484.0 1251.8h4.4v2.5h-4.4zM501.6 1251.8h6.6v2.5h-6.6zM525.8 1251.8h2.2v2.5h-2.2zM477.4 1254.0h11.0v2.5h-11.0zM499.4 1254.0h6.6v2.5h-6.6zM525.8 1254.0h4.4v2.5h-4.4zM536.8 1254.0h4.4v2.5h-4.4zM477.4 1256.2h44.0v2.5h-44.0zM523.6 1256.2h4.4v2.5h-4.4zM536.8 1256.2h2.2v2.5h-2.2zM468.6 1258.4h4.4v2.5h-4.4zM477.4 1258.4h35.2v2.5h-35.2zM517.0 1258.4h8.8v2.5h-8.8zM475.2 1260.6h35.2v2.5h-35.2zM519.2 1260.6h4.4v2.5h-4.4zM470.8 1262.8h41.8v2.5h-41.8zM459.8 1265.0h2.2v2.5h-2.2zM470.8 1265.0h6.6v2.5h-6.6zM481.8 1265.0h33.0v2.5h-33.0zM448.8 1267.2h4.4v2.5h-4.4zM457.6 1267.2h4.4v2.5h-4.4zM470.8 1267.2h4.4v2.5h-4.4zM481.8 1267.2h30.8v2.5h-30.8zM446.6 1269.4h17.6v2.5h-17.6zM468.6 1269.4h6.6v2.5h-6.6zM481.8 1269.4h19.8v2.5h-19.8zM444.4 1271.6h19.8v2.5h-19.8zM466.4 1271.6h17.6v2.5h-17.6zM488.4 1271.6h11.0v2.5h-11.0zM444.4 1273.8h13.2v2.5h-13.2zM468.6 1273.8h15.4v2.5h-15.4zM488.4 1273.8h6.6v2.5h-6.6zM444.4 1276.0h8.8v2.5h-8.8zM466.4 1276.0h17.6v2.5h-17.6zM488.4 1276.0h6.6v2.5h-6.6zM442.2 1278.2h11.0v2.5h-11.0zM464.2 1278.2h15.4v2.5h-15.4zM490.6 1278.2h4.4v2.5h-4.4zM437.8 1280.4h4.4v2.5h-4.4zM464.2 1280.4h11.0v2.5h-11.0zM490.6 1280.4h4.4v2.5h-4.4zM319.0 1282.6h4.4v2.5h-4.4zM435.6 1282.6h6.6v2.5h-6.6zM466.4 1282.6h8.8v2.5h-8.8zM484.0 1282.6h4.4v2.5h-4.4zM490.6 1282.6h4.4v2.5h-4.4zM316.8 1284.8h8.8v2.5h-8.8zM431.2 1284.8h11.0v2.5h-11.0zM459.8 1284.8h17.6v2.5h-17.6zM492.8 1284.8h2.2v2.5h-2.2zM321.2 1287.0h2.2v2.5h-2.2zM429.0 1287.0h17.6v2.5h-17.6zM457.6 1287.0h8.8v2.5h-8.8zM470.8 1287.0h8.8v2.5h-8.8zM484.0 1287.0h2.2v2.5h-2.2zM431.2 1289.2h2.2v2.5h-2.2zM437.8 1289.2h11.0v2.5h-11.0zM462.0 1289.2h4.4v2.5h-4.4zM470.8 1289.2h28.6v2.5h-28.6zM336.6 1291.4h4.4v2.5h-4.4zM435.6 1291.4h6.6v2.5h-6.6zM459.8 1291.4h8.8v2.5h-8.8zM477.4 1291.4h4.4v2.5h-4.4zM484.0 1291.4h15.4v2.5h-15.4zM336.6 1293.6h6.6v2.5h-6.6zM431.2 1293.6h11.0v2.5h-11.0zM451.0 1293.6h2.2v2.5h-2.2zM459.8 1293.6h6.6v2.5h-6.6zM477.4 1293.6h2.2v2.5h-2.2zM486.2 1293.6h13.2v2.5h-13.2zM541.2 1293.6h2.2v2.5h-2.2zM343.2 1295.8h4.4v2.5h-4.4zM422.4 1295.8h4.4v2.5h-4.4zM431.2 1295.8h4.4v2.5h-4.4zM446.6 1295.8h8.8v2.5h-8.8zM462.0 1295.8h2.2v2.5h-2.2zM475.2 1295.8h6.6v2.5h-6.6zM484.0 1295.8h4.4v2.5h-4.4zM495.0 1295.8h4.4v2.5h-4.4zM539.0 1295.8h6.6v2.5h-6.6zM319.0 1298.0h4.4v2.5h-4.4zM343.2 1298.0h4.4v2.5h-4.4zM422.4 1298.0h4.4v2.5h-4.4zM431.2 1298.0h2.2v2.5h-2.2zM444.4 1298.0h13.2v2.5h-13.2zM468.6 1298.0h11.0v2.5h-11.0zM481.8 1298.0h4.4v2.5h-4.4zM492.8 1298.0h13.2v2.5h-13.2zM541.2 1298.0h2.2v2.5h-2.2zM310.2 1300.2h4.4v2.5h-4.4zM319.0 1300.2h2.2v2.5h-2.2zM343.2 1300.2h11.0v2.5h-11.0zM356.4 1300.2h2.2v2.5h-2.2zM413.6 1300.2h6.6v2.5h-6.6zM422.4 1300.2h4.4v2.5h-4.4zM429.0 1300.2h6.6v2.5h-6.6zM442.2 1300.2h17.6v2.5h-17.6zM468.6 1300.2h8.8v2.5h-8.8zM484.0 1300.2h30.8v2.5h-30.8zM310.2 1302.4h11.0v2.5h-11.0zM345.4 1302.4h15.4v2.5h-15.4zM415.8 1302.4h8.8v2.5h-8.8zM429.0 1302.4h35.2v2.5h-35.2zM468.6 1302.4h8.8v2.5h-8.8zM481.8 1302.4h33.0v2.5h-33.0zM519.2 1302.4h4.4v2.5h-4.4zM312.4 1304.6h4.4v2.5h-4.4zM345.4 1304.6h13.2v2.5h-13.2zM415.8 1304.6h4.4v2.5h-4.4zM429.0 1304.6h46.2v2.5h-46.2zM477.4 1304.6h6.6v2.5h-6.6zM488.4 1304.6h8.8v2.5h-8.8zM499.4 1304.6h11.0v2.5h-11.0zM517.0 1304.6h4.4v2.5h-4.4zM312.4 1306.8h2.2v2.5h-2.2zM345.4 1306.8h8.8v2.5h-8.8zM411.4 1306.8h8.8v2.5h-8.8zM429.0 1306.8h44.0v2.5h-44.0zM477.4 1306.8h4.4v2.5h-4.4zM490.6 1306.8h2.2v2.5h-2.2zM499.4 1306.8h6.6v2.5h-6.6zM517.0 1306.8h4.4v2.5h-4.4zM345.4 1309.0h6.6v2.5h-6.6zM367.4 1309.0h2.2v2.5h-2.2zM409.2 1309.0h15.4v2.5h-15.4zM431.2 1309.0h4.4v2.5h-4.4zM442.2 1309.0h2.2v2.5h-2.2zM446.6 1309.0h13.2v2.5h-13.2zM462.0 1309.0h22.0v2.5h-22.0zM508.2 1309.0h2.2v2.5h-2.2zM517.0 1309.0h2.2v2.5h-2.2zM334.4 1311.2h2.2v2.5h-2.2zM345.4 1311.2h4.4v2.5h-4.4zM365.2 1311.2h4.4v2.5h-4.4zM407.0 1311.2h4.4v2.5h-4.4zM413.6 1311.2h4.4v2.5h-4.4zM420.2 1311.2h6.6v2.5h-6.6zM431.2 1311.2h6.6v2.5h-6.6zM442.2 1311.2h4.4v2.5h-4.4zM448.8 1311.2h11.0v2.5h-11.0zM462.0 1311.2h22.0v2.5h-22.0zM506.0 1311.2h6.6v2.5h-6.6zM334.4 1313.4h4.4v2.5h-4.4zM345.4 1313.4h11.0v2.5h-11.0zM404.8 1313.4h6.6v2.5h-6.6zM413.6 1313.4h13.2v2.5h-13.2zM433.4 1313.4h13.2v2.5h-13.2zM451.0 1313.4h22.0v2.5h-22.0zM475.2 1313.4h8.8v2.5h-8.8zM501.6 1313.4h11.0v2.5h-11.0zM347.6 1315.6h8.8v2.5h-8.8zM393.8 1315.6h4.4v2.5h-4.4zM404.8 1315.6h4.4v2.5h-4.4zM413.6 1315.6h33.0v2.5h-33.0zM451.0 1315.6h19.8v2.5h-19.8zM477.4 1315.6h6.6v2.5h-6.6zM490.6 1315.6h17.6v2.5h-17.6zM347.6 1317.8h4.4v2.5h-4.4zM360.8 1317.8h4.4v2.5h-4.4zM391.6 1317.8h17.6v2.5h-17.6zM413.6 1317.8h33.0v2.5h-33.0zM453.2 1317.8h13.2v2.5h-13.2zM479.6 1317.8h8.8v2.5h-8.8zM492.8 1317.8h4.4v2.5h-4.4zM501.6 1317.8h4.4v2.5h-4.4zM345.4 1320.0h6.6v2.5h-6.6zM360.8 1320.0h6.6v2.5h-6.6zM391.6 1320.0h37.4v2.5h-37.4zM431.2 1320.0h15.4v2.5h-15.4zM459.8 1320.0h2.2v2.5h-2.2zM473.0 1320.0h15.4v2.5h-15.4zM492.8 1320.0h6.6v2.5h-6.6zM519.2 1320.0h4.4v2.5h-4.4zM336.6 1322.2h13.2v2.5h-13.2zM360.8 1322.2h6.6v2.5h-6.6zM378.4 1322.2h4.4v2.5h-4.4zM391.6 1322.2h2.2v2.5h-2.2zM398.2 1322.2h8.8v2.5h-8.8zM409.2 1322.2h19.8v2.5h-19.8zM431.2 1322.2h13.2v2.5h-13.2zM451.0 1322.2h4.4v2.5h-4.4zM473.0 1322.2h13.2v2.5h-13.2zM495.0 1322.2h4.4v2.5h-4.4zM519.2 1322.2h4.4v2.5h-4.4zM534.6 1322.2h2.2v2.5h-2.2zM336.6 1324.4h13.2v2.5h-13.2zM363.0 1324.4h4.4v2.5h-4.4zM374.0 1324.4h11.0v2.5h-11.0zM400.4 1324.4h4.4v2.5h-4.4zM411.4 1324.4h30.8v2.5h-30.8zM446.6 1324.4h15.4v2.5h-15.4zM470.8 1324.4h11.0v2.5h-11.0zM510.4 1324.4h15.4v2.5h-15.4zM336.6 1326.6h4.4v2.5h-4.4zM349.8 1326.6h6.6v2.5h-6.6zM363.0 1326.6h4.4v2.5h-4.4zM374.0 1326.6h11.0v2.5h-11.0zM400.4 1326.6h4.4v2.5h-4.4zM413.6 1326.6h24.2v2.5h-24.2zM444.4 1326.6h24.2v2.5h-24.2zM470.8 1326.6h8.8v2.5h-8.8zM510.4 1326.6h17.6v2.5h-17.6zM341.0 1328.8h4.4v2.5h-4.4zM347.6 1328.8h11.0v2.5h-11.0zM363.0 1328.8h4.4v2.5h-4.4zM371.8 1328.8h11.0v2.5h-11.0zM389.4 1328.8h2.2v2.5h-2.2zM398.2 1328.8h4.4v2.5h-4.4zM415.8 1328.8h19.8v2.5h-19.8zM440.0 1328.8h17.6v2.5h-17.6zM459.8 1328.8h22.0v2.5h-22.0zM508.2 1328.8h8.8v2.5h-8.8zM519.2 1328.8h8.8v2.5h-8.8zM341.0 1331.0h17.6v2.5h-17.6zM365.2 1331.0h2.2v2.5h-2.2zM369.6 1331.0h8.8v2.5h-8.8zM385.0 1331.0h6.6v2.5h-6.6zM396.0 1331.0h8.8v2.5h-8.8zM407.0 1331.0h2.2v2.5h-2.2zM415.8 1331.0h22.0v2.5h-22.0zM442.2 1331.0h24.2v2.5h-24.2zM470.8 1331.0h11.0v2.5h-11.0zM486.2 1331.0h4.4v2.5h-4.4zM510.4 1331.0h6.6v2.5h-6.6zM521.4 1331.0h6.6v2.5h-6.6zM338.8 1333.2h2.2v2.5h-2.2zM349.8 1333.2h8.8v2.5h-8.8zM369.6 1333.2h8.8v2.5h-8.8zM385.0 1333.2h4.4v2.5h-4.4zM396.0 1333.2h15.4v2.5h-15.4zM415.8 1333.2h11.0v2.5h-11.0zM429.0 1333.2h11.0v2.5h-11.0zM444.4 1333.2h19.8v2.5h-19.8zM475.2 1333.2h6.6v2.5h-6.6zM484.0 1333.2h8.8v2.5h-8.8zM510.4 1333.2h6.6v2.5h-6.6zM521.4 1333.2h6.6v2.5h-6.6zM530.2 1333.2h2.2v2.5h-2.2zM336.6 1335.4h4.4v2.5h-4.4zM352.0 1335.4h6.6v2.5h-6.6zM371.8 1335.4h6.6v2.5h-6.6zM382.8 1335.4h6.6v2.5h-6.6zM393.8 1335.4h17.6v2.5h-17.6zM420.2 1335.4h6.6v2.5h-6.6zM431.2 1335.4h11.0v2.5h-11.0zM446.6 1335.4h19.8v2.5h-19.8zM477.4 1335.4h15.4v2.5h-15.4zM510.4 1335.4h15.4v2.5h-15.4zM530.2 1335.4h2.2v2.5h-2.2zM343.2 1337.6h2.2v2.5h-2.2zM352.0 1337.6h8.8v2.5h-8.8zM385.0 1337.6h4.4v2.5h-4.4zM393.8 1337.6h15.4v2.5h-15.4zM420.2 1337.6h22.0v2.5h-22.0zM451.0 1337.6h13.2v2.5h-13.2zM477.4 1337.6h13.2v2.5h-13.2zM510.4 1337.6h2.2v2.5h-2.2zM517.0 1337.6h6.6v2.5h-6.6zM347.6 1339.8h6.6v2.5h-6.6zM385.0 1339.8h8.8v2.5h-8.8zM396.0 1339.8h15.4v2.5h-15.4zM413.6 1339.8h17.6v2.5h-17.6zM440.0 1339.8h2.2v2.5h-2.2zM453.2 1339.8h11.0v2.5h-11.0zM470.8 1339.8h4.4v2.5h-4.4zM477.4 1339.8h15.4v2.5h-15.4zM497.2 1339.8h8.8v2.5h-8.8zM512.6 1339.8h8.8v2.5h-8.8zM347.6 1342.0h6.6v2.5h-6.6zM371.8 1342.0h4.4v2.5h-4.4zM380.6 1342.0h15.4v2.5h-15.4zM398.2 1342.0h28.6v2.5h-28.6zM451.0 1342.0h13.2v2.5h-13.2zM470.8 1342.0h37.4v2.5h-37.4zM512.6 1342.0h8.8v2.5h-8.8zM334.4 1344.2h4.4v2.5h-4.4zM347.6 1344.2h4.4v2.5h-4.4zM367.4 1344.2h8.8v2.5h-8.8zM380.6 1344.2h26.4v2.5h-26.4zM409.2 1344.2h17.6v2.5h-17.6zM435.6 1344.2h6.6v2.5h-6.6zM451.0 1344.2h13.2v2.5h-13.2zM470.8 1344.2h37.4v2.5h-37.4zM512.6 1344.2h6.6v2.5h-6.6zM523.6 1344.2h4.4v2.5h-4.4zM334.4 1346.4h15.4v2.5h-15.4zM363.0 1346.4h2.2v2.5h-2.2zM367.4 1346.4h6.6v2.5h-6.6zM380.6 1346.4h11.0v2.5h-11.0zM393.8 1346.4h6.6v2.5h-6.6zM402.6 1346.4h4.4v2.5h-4.4zM409.2 1346.4h6.6v2.5h-6.6zM418.0 1346.4h8.8v2.5h-8.8zM433.4 1346.4h8.8v2.5h-8.8zM448.8 1346.4h2.2v2.5h-2.2zM455.4 1346.4h11.0v2.5h-11.0zM468.6 1346.4h28.6v2.5h-28.6zM508.2 1346.4h4.4v2.5h-4.4zM523.6 1346.4h4.4v2.5h-4.4zM336.6 1348.6h8.8v2.5h-8.8zM356.4 1348.6h8.8v2.5h-8.8zM367.4 1348.6h8.8v2.5h-8.8zM378.4 1348.6h13.2v2.5h-13.2zM393.8 1348.6h6.6v2.5h-6.6zM409.2 1348.6h6.6v2.5h-6.6zM422.4 1348.6h8.8v2.5h-8.8zM433.4 1348.6h11.0v2.5h-11.0zM448.8 1348.6h2.2v2.5h-2.2zM455.4 1348.6h11.0v2.5h-11.0zM470.8 1348.6h13.2v2.5h-13.2zM486.2 1348.6h2.2v2.5h-2.2zM490.6 1348.6h6.6v2.5h-6.6zM510.4 1348.6h2.2v2.5h-2.2zM338.8 1350.8h6.6v2.5h-6.6zM354.2 1350.8h22.0v2.5h-22.0zM380.6 1350.8h11.0v2.5h-11.0zM396.0 1350.8h4.4v2.5h-4.4zM409.2 1350.8h6.6v2.5h-6.6zM422.4 1350.8h22.0v2.5h-22.0zM455.4 1350.8h11.0v2.5h-11.0zM473.0 1350.8h11.0v2.5h-11.0zM486.2 1350.8h17.6v2.5h-17.6zM338.8 1353.0h6.6v2.5h-6.6zM356.4 1353.0h13.2v2.5h-13.2zM380.6 1353.0h2.2v2.5h-2.2zM409.2 1353.0h6.6v2.5h-6.6zM420.2 1353.0h22.0v2.5h-22.0zM453.2 1353.0h39.6v2.5h-39.6zM499.4 1353.0h8.8v2.5h-8.8zM338.8 1355.2h4.4v2.5h-4.4zM358.6 1355.2h11.0v2.5h-11.0zM380.6 1355.2h4.4v2.5h-4.4zM407.0 1355.2h4.4v2.5h-4.4zM420.2 1355.2h19.8v2.5h-19.8zM453.2 1355.2h2.2v2.5h-2.2zM457.6 1355.2h15.4v2.5h-15.4zM479.6 1355.2h11.0v2.5h-11.0zM499.4 1355.2h8.8v2.5h-8.8zM358.6 1357.4h11.0v2.5h-11.0zM380.6 1357.4h11.0v2.5h-11.0zM404.8 1357.4h4.4v2.5h-4.4zM418.0 1357.4h19.8v2.5h-19.8zM453.2 1357.4h6.6v2.5h-6.6zM462.0 1357.4h11.0v2.5h-11.0zM481.8 1357.4h2.2v2.5h-2.2zM492.8 1357.4h2.2v2.5h-2.2zM360.8 1359.6h6.6v2.5h-6.6zM378.4 1359.6h13.2v2.5h-13.2zM402.6 1359.6h6.6v2.5h-6.6zM418.0 1359.6h11.0v2.5h-11.0zM431.2 1359.6h6.6v2.5h-6.6zM451.0 1359.6h15.4v2.5h-15.4zM468.6 1359.6h6.6v2.5h-6.6zM352.0 1361.8h2.2v2.5h-2.2zM360.8 1361.8h6.6v2.5h-6.6zM374.0 1361.8h15.4v2.5h-15.4zM402.6 1361.8h6.6v2.5h-6.6zM415.8 1361.8h11.0v2.5h-11.0zM429.0 1361.8h19.8v2.5h-19.8zM451.0 1361.8h15.4v2.5h-15.4zM468.6 1361.8h15.4v2.5h-15.4zM488.4 1361.8h2.2v2.5h-2.2zM352.0 1364.0h2.2v2.5h-2.2zM360.8 1364.0h6.6v2.5h-6.6zM378.4 1364.0h13.2v2.5h-13.2zM400.4 1364.0h11.0v2.5h-11.0zM413.6 1364.0h11.0v2.5h-11.0zM429.0 1364.0h17.6v2.5h-17.6zM451.0 1364.0h4.4v2.5h-4.4zM459.8 1364.0h4.4v2.5h-4.4zM470.8 1364.0h6.6v2.5h-6.6zM479.6 1364.0h11.0v2.5h-11.0zM378.4 1366.2h13.2v2.5h-13.2zM398.2 1366.2h11.0v2.5h-11.0zM413.6 1366.2h8.8v2.5h-8.8zM429.0 1366.2h15.4v2.5h-15.4zM470.8 1366.2h6.6v2.5h-6.6zM481.8 1366.2h8.8v2.5h-8.8zM501.6 1366.2h4.4v2.5h-4.4zM358.6 1368.4h4.4v2.5h-4.4zM378.4 1368.4h30.8v2.5h-30.8zM415.8 1368.4h6.6v2.5h-6.6zM426.8 1368.4h6.6v2.5h-6.6zM473.0 1368.4h4.4v2.5h-4.4zM503.8 1368.4h4.4v2.5h-4.4zM358.6 1370.6h8.8v2.5h-8.8zM380.6 1370.6h26.4v2.5h-26.4zM422.4 1370.6h6.6v2.5h-6.6zM363.0 1372.8h4.4v2.5h-4.4zM369.6 1372.8h4.4v2.5h-4.4zM378.4 1372.8h6.6v2.5h-6.6zM387.2 1372.8h19.8v2.5h-19.8zM422.4 1372.8h6.6v2.5h-6.6zM475.2 1372.8h4.4v2.5h-4.4zM369.6 1375.0h6.6v2.5h-6.6zM389.4 1375.0h2.2v2.5h-2.2zM396.0 1375.0h13.2v2.5h-13.2zM418.0 1375.0h8.8v2.5h-8.8zM475.2 1375.0h6.6v2.5h-6.6zM367.4 1377.2h8.8v2.5h-8.8zM389.4 1377.2h2.2v2.5h-2.2zM396.0 1377.2h15.4v2.5h-15.4zM415.8 1377.2h6.6v2.5h-6.6zM437.8 1377.2h4.4v2.5h-4.4zM363.0 1379.4h4.4v2.5h-4.4zM371.8 1379.4h4.4v2.5h-4.4zM389.4 1379.4h2.2v2.5h-2.2zM398.2 1379.4h13.2v2.5h-13.2zM413.6 1379.4h8.8v2.5h-8.8zM426.8 1379.4h2.2v2.5h-2.2zM437.8 1379.4h4.4v2.5h-4.4zM374.0 1381.6h2.2v2.5h-2.2zM387.2 1381.6h4.4v2.5h-4.4zM413.6 1381.6h6.6v2.5h-6.6zM437.8 1381.6h6.6v2.5h-6.6zM374.0 1383.8h2.2v2.5h-2.2zM380.6 1383.8h13.2v2.5h-13.2zM413.6 1383.8h6.6v2.5h-6.6zM431.2 1383.8h13.2v2.5h-13.2zM380.6 1386.0h4.4v2.5h-4.4zM387.2 1386.0h4.4v2.5h-4.4zM413.6 1386.0h11.0v2.5h-11.0zM431.2 1386.0h11.0v2.5h-11.0zM402.6 1388.2h6.6v2.5h-6.6zM413.6 1388.2h13.2v2.5h-13.2zM429.0 1388.2h11.0v2.5h-11.0zM400.4 1390.4h4.4v2.5h-4.4zM407.0 1390.4h4.4v2.5h-4.4zM413.6 1390.4h22.0v2.5h-22.0zM396.0 1392.6h6.6v2.5h-6.6zM422.4 1392.6h11.0v2.5h-11.0zM431.2 1394.8h2.2v2.5h-2.2zM358.6 1399.2h2.2v2.5h-2.2zM363.0 1399.2h6.6v2.5h-6.6zM354.2 1401.4h6.6v2.5h-6.6zM363.0 1401.4h6.6v2.5h-6.6zM354.2 1403.6h6.6v2.5h-6.6zM356.4 1405.8h4.4v2.5h-4.4zM374.0 1405.8h2.2v2.5h-2.2zM371.8 1408.0h6.6v2.5h-6.6zM374.0 1410.2h2.2v2.5h-2.2zM360.8 1414.6h2.2v2.5h-2.2zM380.6 1421.2h4.4v2.5h-4.4zM378.4 1423.4h6.6v2.5h-6.6zM378.4 1425.6h6.6v2.5h-6.6zM369.6 1427.8h6.6v2.5h-6.6zM380.6 1427.8h4.4v2.5h-4.4zM367.4 1430.0h8.8v2.5h-8.8zM380.6 1430.0h4.4v2.5h-4.4zM369.6 1432.2h15.4v2.5h-15.4zM371.8 1434.4h13.2v2.5h-13.2zM376.2 1436.6h6.6v2.5h-6.6zM398.2 1436.6h2.2v2.5h-2.2zM376.2 1438.8h4.4v2.5h-4.4zM378.4 1441.0h2.2v2.5h-2.2zM380.6 1443.2h4.4v2.5h-4.4zM380.6 1445.4h4.4v2.5h-4.4zM371.8 1485.0h2.2v2.5h-2.2zM380.6 1485.0h4.4v2.5h-4.4zM371.8 1487.2h4.4v2.5h-4.4zM374.0 1489.4h2.2v2.5h-2.2zM363.0 1491.6h4.4v2.5h-4.4zM382.8 1491.6h4.4v2.5h-4.4zM446.6 1491.6h2.2v2.5h-2.2zM360.8 1493.8h6.6v2.5h-6.6zM444.4 1493.8h6.6v2.5h-6.6zM358.6 1496.0h6.6v2.5h-6.6zM371.8 1496.0h4.4v2.5h-4.4zM446.6 1496.0h2.2v2.5h-2.2zM358.6 1498.2h17.6v2.5h-17.6zM380.6 1498.2h4.4v2.5h-4.4zM327.8 1500.4h2.2v2.5h-2.2zM360.8 1500.4h15.4v2.5h-15.4zM382.8 1500.4h6.6v2.5h-6.6zM325.6 1502.6h6.6v2.5h-6.6zM365.2 1502.6h13.2v2.5h-13.2zM385.0 1502.6h4.4v2.5h-4.4zM327.8 1504.8h2.2v2.5h-2.2zM374.0 1504.8h13.2v2.5h-13.2zM360.8 1507.0h2.2v2.5h-2.2zM374.0 1507.0h13.2v2.5h-13.2zM420.2 1507.0h2.2v2.5h-2.2zM356.4 1509.2h6.6v2.5h-6.6zM374.0 1509.2h11.0v2.5h-11.0zM418.0 1509.2h6.6v2.5h-6.6zM356.4 1511.4h6.6v2.5h-6.6zM374.0 1511.4h6.6v2.5h-6.6zM382.8 1511.4h2.2v2.5h-2.2zM356.4 1513.6h8.8v2.5h-8.8zM371.8 1513.6h6.6v2.5h-6.6zM358.6 1515.8h8.8v2.5h-8.8zM369.6 1515.8h6.6v2.5h-6.6zM360.8 1518.0h4.4v2.5h-4.4zM369.6 1518.0h4.4v2.5h-4.4zM363.0 1522.4h2.2v2.5h-2.2zM371.8 1522.4h6.6v2.5h-6.6zM363.0 1524.6h4.4v2.5h-4.4zM371.8 1524.6h4.4v2.5h-4.4zM365.2 1526.8h4.4v2.5h-4.4zM367.4 1529.0h6.6v2.5h-6.6zM376.2 1540.0h2.2v2.5h-2.2zM376.2 1542.2h4.4v2.5h-4.4zM349.8 1544.4h2.2v2.5h-2.2zM374.0 1544.4h6.6v2.5h-6.6zM374.0 1546.6h4.4v2.5h-4.4zM374.0 1548.8h4.4v2.5h-4.4zM352.0 1553.2h2.2v2.5h-2.2zM367.4 1553.2h2.2v2.5h-2.2zM352.0 1555.4h4.4v2.5h-4.4zM363.0 1555.4h8.8v2.5h-8.8zM374.0 1555.4h6.6v2.5h-6.6zM363.0 1557.6h17.6v2.5h-17.6zM363.0 1559.8h6.6v2.5h-6.6zM376.2 1559.8h2.2v2.5h-2.2zM382.8 1559.8h4.4v2.5h-4.4zM360.8 1562.0h6.6v2.5h-6.6zM382.8 1562.0h2.2v2.5h-2.2zM444.4 1562.0h2.2v2.5h-2.2zM444.4 1564.2h2.2v2.5h-2.2zM345.4 1566.4h4.4v2.5h-4.4zM380.6 1570.8h2.2v2.5h-2.2zM378.4 1573.0h4.4v2.5h-4.4zM376.2 1575.2h4.4v2.5h-4.4zM378.4 1577.4h4.4v2.5h-4.4zM429.0 1577.4h4.4v2.5h-4.4zM376.2 1579.6h6.6v2.5h-6.6zM431.2 1579.6h4.4v2.5h-4.4zM352.0 1581.8h2.2v2.5h-2.2zM376.2 1581.8h2.2v2.5h-2.2zM380.6 1581.8h4.4v2.5h-4.4zM349.8 1584.0h4.4v2.5h-4.4zM380.6 1584.0h4.4v2.5h-4.4zM352.0 1586.2h11.0v2.5h-11.0zM352.0 1588.4h11.0v2.5h-11.0zM365.2 1590.6h4.4v2.5h-4.4zM398.2 1643.4h2.2v2.5h-2.2zM396.0 1645.6h4.4v2.5h-4.4zM398.2 1647.8h2.2v2.5h-2.2zM402.6 1658.8h2.2v2.5h-2.2zM400.4 1661.0h6.6v2.5h-6.6zM402.6 1663.2h2.2v2.5h-2.2zM389.4 1696.2h2.2v2.5h-2.2zM387.2 1698.4h6.6v2.5h-6.6zM389.4 1700.6h2.2v2.5h-2.2zM1014.5 752.3 L1022.2 746.3 L1026.7 740.2 L1029.8 735.9 L1034.9 735.3 L1038.9 740.2 L1041.0 745.0 L1044.1 752.3 L1039.5 751.1 L1034.9 746.3 L1029.8 748.1 L1023.7 750.5 L1018.5 752.9ZM476.8 1059.3 L483.7 1053.3 L497.4 1051.7 L509.6 1053.3 L514.1 1060.9 L512.6 1070.0 L505.0 1074.6 L494.3 1073.0 L485.2 1071.5 L478.4 1067.0ZM1035.2 715.8 L1039.8 715.2 L1038.6 720.7 L1034.9 723.4 L1033.7 719.8Z" fill="#2f4f4f"/><path d="M964.3 726.8 L968.0 731.0 M971.0 734.1 L975.0 738.0 M978.0 740.2 L982.0 742.6 M985.0 744.4 L988.7 746.3 M992.3 749.3 L994.8 751.7 M951.5 769.4 L954.6 774.6 L955.8 778.5 M958.2 785.8 L961.3 791.3 L965.9 797.4 L971.9 807.1" stroke="#111" stroke-width="2.4" fill="none" stroke-linecap="round"/>
<path d="M209.9 1079.5 209.1 1075.9 209.2 1072.2 208.5 1068.5 208.5 1064.8 208.1 1061.1 206.7 1057.6 207.1 1053.8 206.2 1049.6 207.7 1045.3 206.7 1041.0 207.1 1036.7 205.9 1033.2 206.5 1029.4 204.9 1026.0 204.2 1022.5 204.1 1018.8 202.8 1015.3 202.3 1011.7 201.4 1008.2 198.7 1004.2 197.1 999.6 193.7 995.9 190.0 992.5 188.4 988.6 185.7 985.4 185.3 981.6 185.2 977.7 184.3 974.0 186.7 971.3 188.5 968.2 186.4 964.7 186.1 960.5 184.3 956.8 184.4 952.6 184.3 948.3 186.1 945.2 188.5 942.6 191.8 940.4 195.7 939.7 195.4 935.8 193.7 932.1 192.8 928.3 192.5 924.7 192.1 921.0 191.1 917.5 190.0 914.0 189.8 910.0 187.9 906.5 187.1 902.6 189.7 898.6 191.4 894.1 194.2 889.7 197.1 885.5 201.2 885.2 205.1 884.0 208.7 881.6 212.8 881.2 217.2 881.5 221.5 882.6 225.6 884.1 229.6 886.3 234.2 886.8 238.5 888.4 242.1 888.2 245.6 887.3 249.2 887.3 252.7 886.9 255.6 889.8 259.1 889.2 262.7 888.8 266.3 888.9 269.9 888.4 273.5 887.1 277.3 886.2 280.7 884.4 284.1 882.7 287.9 882.5 291.4 881.4 295.0 880.7 298.4 878.9 M298.4 878.9 300.8 875.8 302.2 871.9 305.4 869.2 306.9 865.5 308.5 862.1 309.1 858.5 309.2 854.9 309.8 851.3 312.9 848.7 315.1 845.2 318.8 843.1 321.2 839.9 322.8 836.1 323.7 832.1 325.5 828.4 324.7 824.9 325.5 821.3 328.6 823.3 331.8 825.0 335.5 825.6 338.8 827.4 340.8 830.8 344.1 832.6 347.3 834.6 350.0 837.2 352.6 839.9 355.5 842.3 358.6 844.5 362.6 845.4 365.2 848.3 368.9 849.5 371.4 852.6 375.0 854.0 377.6 856.9 381.1 858.4 384.3 860.1 388.0 860.1 391.2 861.8 394.9 861.5 398.2 862.7 398.7 859.1 400.8 856.1 401.0 852.4 402.5 849.2 404.0 846.0 405.6 842.8 406.0 839.2 407.0 835.8 409.6 832.9 409.8 829.3 412.1 826.3 412.5 822.7 415.0 819.5 416.1 815.5 418.2 812.0 420.2 808.5 422.2 805.0 423.9 801.3 428.0 800.4 431.9 799.2 436.0 798.1 440.1 797.5 443.9 795.6 445.7 792.4 447.4 789.1 449.7 786.1 450.7 782.4 452.7 779.2 455.5 776.6 456.6 773.0 458.5 769.7 459.5 766.0 461.9 763.1 463.9 760.0 467.5 758.0 471.0 755.7 475.3 760.0 478.0 763.4 478.9 767.7 481.0 771.4 485.3 770.9 489.5 770.0 492.9 772.1 495.1 775.5 498.1 777.9 500.7 780.9 504.0 783.1 506.4 786.3 509.2 789.0 512.4 791.4 514.2 794.8 515.2 798.5 515.1 802.4 515.6 806.3 517.9 809.6 518.6 813.3 519.5 817.0 521.4 820.5 523.8 823.7 525.7 827.2 527.8 830.6 529.5 834.2 531.6 837.4 533.1 840.9 535.5 844.0 537.3 847.4 538.6 851.0 541.6 853.7 542.7 857.5 544.3 861.0 546.6 864.1 550.4 863.3 554.2 862.7 558.0 862.7 561.7 860.9 564.6 857.7 568.0 855.4 571.6 853.5 575.1 851.3 579.4 851.3 583.6 849.8 587.9 849.9 592.3 849.8 594.9 847.3 598.3 845.7 600.7 842.9 604.1 841.2 606.5 838.4 608.2 834.9 610.6 831.8 613.2 829.0 615.1 825.6 616.7 822.0 616.9 818.0 617.9 814.2 622.0 811.6 626.5 809.9 627.8 806.2 630.3 803.3 632.2 799.9 635.4 798.2 639.2 798.2 642.7 797.1 645.7 794.8 649.3 794.2 652.7 791.7 656.7 790.4 660.1 788.0 663.6 785.6 667.3 783.8 670.3 780.9 673.5 778.2 677.1 776.2 680.7 774.2 683.9 771.8 686.1 768.2 689.1 765.5 692.0 762.7 694.9 759.9 697.8 757.1 701.6 756.2 705.6 756.4 709.1 754.4 712.9 753.4 717.0 754.3 720.6 752.8 723.9 750.9 726.9 748.5 729.1 745.3 732.1 742.9 735.8 743.9 739.6 744.1 743.5 743.1 747.2 744.2 751.0 744.6 754.9 744.3 758.7 743.9 762.4 742.9 766.1 741.8 770.0 741.4 M298.4 878.9 299.4 882.7 300.3 886.4 301.3 890.1 301.2 894.1 302.5 897.7 304.5 901.1 305.0 905.0 306.9 908.3 310.4 910.6 312.1 914.6 315.3 917.1 318.4 919.7 319.1 923.6 320.5 927.1 322.0 930.7 324.1 934.0 324.4 937.8 325.9 941.5 325.5 945.4 324.3 949.6 324.1 954.0 325.4 957.4 325.8 961.0 325.9 964.7 326.9 968.2 329.7 970.6 332.7 972.7 335.0 975.7 338.2 977.5 341.2 979.7 344.2 981.8 347.2 984.1 349.3 987.3 352.6 989.1 355.1 991.9 358.3 993.9 361.3 996.6 364.4 999.2 366.8 1002.5 369.7 1005.3 373.6 1007.0 377.9 1007.0 381.6 1009.3 385.5 1010.6 389.7 1011.0 392.5 1009.6 396.4 1011.0 400.4 1011.9 404.7 1011.3 408.5 1013.3 412.5 1013.9 416.1 1014.5 419.6 1013.1 423.2 1013.5 426.8 1013.9 429.6 1016.1 431.7 1018.9 434.4 1021.3 436.8 1023.9 440.3 1024.5 443.8 1025.8 447.6 1025.1 451.0 1026.7 454.7 1024.9 458.7 1023.9 462.6 1022.9 466.7 1022.5 471.0 1021.7 475.3 1023.3 479.6 1023.1 483.8 1022.5 487.2 1020.7 491.0 1020.3 494.4 1018.9 498.1 1018.2 502.1 1017.4 506.1 1017.1 510.1 1017.2 514.1 1016.7 518.1 1016.2 522.1 1016.3 526.1 1016.4 530.1 1017.1 534.1 1017.1 538.0 1018.2 540.8 1020.4 543.8 1022.5 546.9 1024.2 550.5 1025.1 554.0 1026.0 557.3 1027.6 560.5 1029.4 563.7 1031.0 567.0 1033.5 570.3 1036.0 574.1 1037.7 577.1 1040.6 580.8 1042.4 584.5 1045.0 588.5 1047.1 592.3 1049.6 595.3 1051.8 598.0 1054.3 600.8 1056.7 602.4 1060.2 604.7 1063.3 606.5 1066.7 610.0 1068.4 613.7 1069.5 M592.3 849.8 590.9 854.9 589.4 859.8 591.5 863.0 592.8 866.7 594.2 870.3 596.9 873.2 598.0 876.9 600.5 879.7 603.0 882.6 604.8 886.0 607.1 888.9 610.4 891.1 612.1 894.5 615.1 896.9 617.6 900.1 621.1 902.3 623.7 905.4 627.0 907.9 629.3 911.2 628.3 914.9 628.1 918.8 627.2 922.5 626.9 926.3 626.7 930.2 626.5 934.0 628.3 938.5 630.8 942.6 627.5 944.6 624.7 947.4 621.1 948.9 617.9 951.1 615.7 954.3 612.6 956.6 609.0 958.2 606.5 961.1 603.3 962.8 599.9 963.5 596.4 964.4 592.7 963.9 589.4 965.4 589.0 969.3 588.3 973.2 586.5 976.8 587.4 980.4 590.0 983.2 590.3 987.0 592.0 990.2 593.1 993.7 595.1 996.8 595.3 1000.5 596.9 1003.8 597.4 1007.4 599.7 1010.5 599.4 1014.3 600.8 1017.7 601.4 1021.3 603.4 1024.5 603.7 1028.2 604.5 1032.0 605.4 1035.7 608.1 1038.9 608.9 1042.7 609.7 1046.5 610.4 1050.4 612.2 1053.8 613.0 1057.7 613.5 1061.6 613.7 1065.6 613.7 1069.5 M613.7 1069.5 614.7 1065.9 615.8 1062.2 616.0 1058.4 616.8 1054.6 617.9 1051.0 621.4 1048.3 624.9 1045.8 628.5 1043.4 632.2 1041.0 635.8 1041.7 638.7 1043.9 641.6 1046.1 645.3 1046.6 648.3 1048.5 652.0 1049.0 655.0 1051.0 660.7 1049.6 664.6 1049.7 668.4 1049.5 672.2 1049.2 675.9 1048.6 679.7 1048.3 683.6 1048.1 689.3 1045.3 688.1 1040.9 686.4 1036.7 685.7 1032.2 683.6 1028.2 687.5 1024.8 692.1 1022.5 693.7 1019.2 696.7 1017.0 699.1 1014.3 700.7 1011.0 701.7 1007.2 702.5 1003.4 703.5 999.6 707.0 1000.7 710.8 1000.5 714.3 1001.4 717.8 1002.5 721.5 1001.0 725.4 1000.7 729.1 999.3 732.9 998.2 736.9 998.1 740.6 996.8 744.4 995.8 747.3 993.0 751.0 992.0 754.2 989.8 757.7 988.2 760.5 985.8 762.4 982.6 764.3 979.4 766.5 976.5 769.1 974.0 768.3 969.7 769.1 965.4 M680.7 774.2 681.2 778.0 681.9 781.8 682.7 785.6 682.9 789.4 683.4 793.2 683.6 797.1 683.4 800.7 684.9 804.1 683.7 807.8 685.0 811.3 685.2 814.9 685.7 818.5 685.4 822.1 686.4 825.6 687.3 829.1 689.2 832.3 690.7 835.6 691.7 839.1 692.9 842.5 695.0 845.6 697.3 849.0 698.9 852.9 700.7 856.7 703.5 859.8 706.4 862.3 709.6 864.5 712.4 867.0 714.9 869.8 717.6 872.3 720.6 874.1 717.0 874.1 713.4 874.0 709.9 874.5 706.4 875.5 702.8 878.3 699.1 880.7 695.0 882.7 696.5 885.9 697.8 889.3 698.0 893.0 698.9 896.6 700.7 899.8 701.4 903.6 703.9 906.7 704.3 910.7 706.4 914.0 708.1 917.5 709.4 921.1 710.3 924.9 712.1 928.3 715.4 929.8 718.2 932.0 720.3 935.2 723.5 936.9 727.3 938.7 730.8 940.9 734.1 943.4 737.8 945.4 739.6 948.5 742.8 950.6 744.4 953.8 746.3 956.8 750.2 958.6 753.9 960.6 757.7 962.5 761.7 963.0 765.3 964.6 769.1 965.4 M780.2 742.6 783.9 742.9 787.3 741.4 790.9 741.1 794.7 740.8 798.4 739.6 802.2 739.5 806.1 739.6 810.2 738.3 813.9 735.9 818.3 735.0 822.5 734.7 826.5 733.7 830.4 731.9 834.1 730.7 838.1 731.7 841.8 730.2 845.7 730.4 849.5 729.9 853.2 728.9 857.5 729.7 861.5 731.5 865.7 732.6 870.0 733.5 874.2 732.5 878.0 730.0 882.2 728.9 885.9 730.1 889.6 731.2 893.5 731.5 897.4 731.9 900.5 728.9 903.5 725.9 906.0 721.6 909.6 718.3 911.1 713.7 912.6 709.1 910.1 705.5 908.0 701.5 912.0 699.6 915.6 696.9 919.9 696.5 924.0 695.5 928.1 694.1 932.4 693.9 936.3 691.1 940.0 687.8 944.1 686.0 947.8 683.2 952.2 681.7 954.3 677.4 955.2 672.6 954.7 668.0 953.7 663.5 955.0 659.4 958.2 656.2 958.8 651.8 961.3 648.3 962.9 645.1 965.3 642.4 966.9 639.2 968.7 636.1 970.4 633.0 975.0 632.5 979.5 631.5 982.5 628.4 985.4 625.2 988.7 622.4 991.4 619.5 994.3 616.9 998.0 615.4 1001.1 613.0 1003.9 610.2 1007.5 607.7 1011.2 605.5 1014.5 602.6 1018.1 602.9 1021.7 603.2 1025.2 604.1 1029.2 602.9 1033.5 602.7 1037.4 601.1 1040.0 598.4 1043.5 597.0 1046.5 595.0 1048.4 591.0 1051.1 587.4 1054.1 585.1 1056.2 581.9 1058.8 579.2 1061.7 576.7 1065.6 578.3 1069.3 580.3 1072.9 582.4 1076.9 583.7 1080.6 584.6 1083.8 586.6 1087.8 586.4 1091.3 587.8 1094.9 588.6 1098.2 590.4 1101.8 589.3 1105.6 590.0 1109.2 589.4 1112.8 587.9 1116.5 588.0 1120.7 588.3 1124.6 589.5 1128.7 590.4 1130.6 594.1 1132.8 597.6 1135.1 601.0 1137.8 604.1 1139.6 607.3 1142.1 609.9 1143.7 613.2 1145.4 616.3 1146.7 620.3 1146.9 624.5 1151.0 623.3 1155.1 622.2 1159.1 620.9 1163.1 620.3 1167.0 620.4 1171.0 621.4 1174.9 620.0 1178.9 620.9 1178.7 617.0 1177.4 613.3 1178.8 610.0 1179.7 606.6 1179.4 602.9 1180.4 599.6 1181.6 596.2 1182.8 592.8 1184.1 589.4 1185.0 585.9 1189.1 587.1 1193.3 587.0 1197.6 586.6 1201.7 587.4 1205.4 588.4 1209.3 588.1 1213.1 588.7 1216.9 588.9 1219.1 592.7 1222.7 595.5 1224.5 599.6 1228.0 603.0 1232.1 605.6 1235.7 607.1 1239.5 608.1 1243.1 609.3 1246.8 610.5 1250.4 611.7 1254.3 612.0 1258.0 613.3 1262.0 613.2 1265.6 614.8 1267.6 618.8 1269.4 623.0 1271.7 627.0 1272.1 630.6 1272.2 634.3 1271.8 638.0 1272.2 641.6 1273.2 645.2 1270.6 648.7 1267.1 651.3 1263.6 652.0 1260.4 653.5 1257.4 655.7 1253.8 656.4 1250.4 657.4 1251.4 661.4 1252.2 665.4 1251.9 669.6 1248.8 672.6 1245.8 675.6 1243.1 679.4 1242.1 683.9 1239.7 687.8 1239.1 692.4 1239.7 696.9 1237.0 699.2 1235.1 702.5 1232.1 704.6 1229.3 708.0 1227.6 712.2 1227.9 716.2 1227.8 720.4 1229.1 724.3 1229.7 728.5 1230.7 732.6 1232.1 736.5 1229.3 739.8 1226.1 742.6 1222.7 744.4 1220.0 747.2 1216.1 747.6 1212.5 749.0 1209.0 750.9 1205.2 751.6 1201.7 753.2 1198.7 755.2 1196.0 757.7 1193.0 759.7 1189.5 760.9 1186.9 763.4 1183.7 765.1 1180.7 767.1 1177.4 768.5 1173.8 770.0 1170.1 771.2 1166.7 773.0 1162.6 774.0 1158.6 775.2 1154.5 776.1 1152.8 779.5 1151.8 783.3 1150.0 786.7 1147.0 789.3 1143.6 791.4 1140.8 794.3 1137.9 797.5 1135.2 800.8 1131.2 803.0 1128.7 806.5 1127.3 809.9 1126.9 813.7 1125.6 817.2 1121.6 817.4 1117.5 817.1 1113.5 817.2 1109.7 815.9 1105.7 815.4 1101.8 814.6 1098.2 812.6 1097.2 817.3 1095.2 821.7 1090.9 823.3 1087.4 826.4 1083.0 827.8 1083.9 832.4 1084.5 836.9 1087.3 840.5 1089.1 844.5 1085.2 846.1 1081.1 847.2 1076.9 847.6 1072.4 852.2 1067.9 853.8 1063.2 855.2 1060.3 853.1 1057.6 850.7 1055.6 847.6 1052.6 843.0 1048.4 843.2 1044.4 842.6 1040.4 841.5 1038.1 838.9 1035.2 836.7 1032.9 834.1 1031.3 830.9 1025.2 827.8 1019.1 830.9 1014.5 830.9 1010.0 831.0 1005.4 830.9 1001.9 832.4 999.1 835.2 995.5 836.5 992.1 838.3 988.7 840.0 986.1 842.5 982.2 842.9 979.8 845.9 976.9 847.9 973.5 849.1 970.4 851.0 967.7 853.3 964.2 854.4 961.4 856.7 958.2 858.2 955.7 861.8 952.7 864.9 949.1 867.4 945.8 869.1 943.3 871.8 940.0 873.5 938.0 876.8 937.0 880.6 935.4 884.1 931.3 883.0 927.0 883.7 922.8 883.4 918.7 882.6 915.9 885.0 912.3 886.2 909.6 888.7 906.4 890.8 903.5 893.2 899.5 895.0 895.6 897.0 891.3 897.8 887.0 898.2 882.8 898.5 878.7 899.9 874.6 900.9 M780.2 742.6 781.7 748.7 783.6 752.0 784.6 755.6 784.8 759.3 788.6 760.6 791.9 762.6 795.5 764.3 798.5 766.9 800.4 770.5 800.5 774.6 801.2 778.6 803.0 782.2 806.5 784.8 808.5 788.9 812.2 791.3 814.7 793.8 816.9 796.7 819.2 799.4 821.7 802.0 825.4 803.4 827.4 806.5 830.6 808.2 833.4 810.7 836.5 812.6 836.5 816.6 838.8 820.1 839.2 823.9 839.6 827.8 844.1 832.4 847.5 834.0 851.4 833.7 854.8 835.4 856.8 838.7 858.7 842.0 860.0 845.6 861.4 849.2 863.9 852.2 866.0 855.7 866.5 859.9 868.1 863.7 870.0 867.4 870.9 872.1 873.0 876.5 873.4 880.6 873.3 884.7 874.6 888.7 874.8 892.7 874.7 896.8 874.6 900.9 M769.9 741.4 775.1 741.5 780.2 742.6 M681.3 773.0 682.1 769.4 681.9 765.7 681.8 762.0 681.9 758.4 682.8 754.8 687.0 754.8 691.2 754.2 695.4 754.0 699.6 753.2 696.5 757.8 M874.6 900.9 870.7 899.5 866.9 897.8 869.7 900.8 872.9 903.5 874.9 907.2 878.5 909.4 880.6 913.0 879.2 916.6 877.2 919.9 876.1 923.7 872.5 925.1 869.6 927.7 866.0 929.2 862.1 930.0 858.8 932.0 855.2 933.3 851.8 935.1 848.7 937.4 848.4 941.2 847.2 944.9 847.1 948.7 847.2 952.6 845.4 955.8 843.3 958.8 841.7 962.1 839.2 964.9 836.3 967.3 835.0 970.8 836.0 974.3 835.4 978.0 836.5 981.4 836.8 985.0 836.0 988.6 836.5 992.1 835.4 995.7 834.2 999.2 832.5 1002.5 830.2 1005.4 828.9 1008.9 824.7 1008.0 820.4 1008.2 816.3 1007.1 812.2 1005.8 809.7 1002.2 805.7 1000.1 803.1 996.6 800.0 993.7 796.1 992.7 792.5 990.9 788.6 990.1 784.8 989.1 783.5 985.8 781.4 983.0 779.1 980.3 777.3 977.2 775.4 974.3 774.9 970.6 772.6 967.8 M209.9 1079.9 209.8 1083.5 209.1 1087.0 206.6 1090.0 207.0 1093.8 205.7 1097.1 204.6 1100.6 205.7 1104.3 204.7 1107.8 204.7 1111.4 203.3 1114.8 203.3 1118.4 202.9 1122.0 202.8 1125.6 203.1 1129.9 203.6 1134.3 205.2 1138.4 205.7 1142.7 205.2 1146.5 205.3 1150.3 205.6 1154.2 204.1 1157.9 204.3 1161.7 204.2 1165.5 208.2 1168.9 212.8 1171.2 215.4 1173.8 217.0 1177.0 219.3 1179.8 221.4 1182.7 221.3 1187.0 222.8 1191.1 222.7 1195.5 222.8 1199.8 223.7 1203.2 225.2 1206.4 225.3 1210.1 225.8 1213.6 227.1 1216.9 227.2 1221.2 226.8 1225.4 226.9 1229.7 227.1 1234.0 228.5 1237.7 229.2 1241.6 229.9 1245.4 226.4 1247.6 224.4 1251.3 221.4 1254.0 223.4 1257.7 225.8 1261.3 227.1 1265.4 230.3 1267.9 233.2 1270.7 235.6 1274.0 238.9 1276.1 242.6 1277.2 246.1 1278.9 249.9 1279.7 251.3 1283.0 254.0 1285.5 255.7 1288.7 258.4 1291.1 259.8 1294.7 261.4 1298.1 262.0 1302.1 264.2 1305.3 264.2 1309.0 264.8 1312.6 266.3 1316.0 267.0 1319.6 267.0 1323.5 268.1 1327.2 267.5 1331.1 268.2 1334.9 269.8 1338.6 269.9 1342.4 M269.9 1342.4 274.1 1340.7 277.2 1337.2 281.3 1335.3 285.3 1337.2 288.2 1340.6 292.2 1342.5 295.5 1345.3 298.4 1343.3 301.4 1341.4 303.6 1338.5 307.2 1337.5 309.6 1334.8 312.6 1333.0 315.5 1331.0 319.4 1331.7 323.0 1333.3 326.9 1333.9 330.4 1335.4 334.2 1335.6 337.8 1336.4 341.2 1338.1 346.9 1339.6 351.0 1340.1 354.9 1341.1 359.0 1341.4 363.0 1342.4 366.9 1343.9 M341.2 1336.7 341.7 1332.4 341.2 1328.2 345.1 1327.3 349.0 1326.6 352.9 1325.4 356.6 1324.1 360.1 1322.0 364.0 1321.0 364.9 1317.2 366.9 1313.9 364.0 1308.2 366.0 1305.1 368.5 1302.4 370.9 1299.7 373.2 1296.8 375.4 1293.9 378.1 1290.9 381.6 1288.7 384.0 1285.4 382.7 1281.2 382.0 1276.8 381.1 1272.5 384.7 1272.3 388.1 1271.3 391.3 1269.6 394.7 1268.7 398.2 1268.2 401.9 1269.5 405.7 1269.7 407.8 1274.4 408.2 1279.7 410.7 1284.0 411.9 1288.8 418.8 1287.6 421.5 1285.0 424.2 1282.4 426.8 1279.7 426.7 1275.8 426.9 1271.9 428.2 1268.2 432.4 1267.2 436.8 1267.8 441.0 1266.8 444.6 1267.1 448.1 1268.4 451.7 1268.4 455.3 1268.2 457.5 1272.1 461.6 1274.4 463.9 1278.2 467.7 1276.5 471.6 1275.1 475.8 1274.7 479.8 1273.4 483.8 1272.5 M483.8 1272.5 484.3 1276.5 483.0 1280.4 483.5 1284.4 482.4 1288.2 M482.4 1288.2 479.4 1291.3 476.3 1294.3 472.4 1296.4 469.6 1299.6 466.8 1302.6 464.2 1305.6 461.6 1308.8 458.2 1311.1 455.3 1313.9 452.3 1316.6 449.4 1319.4 446.2 1321.9 443.5 1324.9 441.0 1328.2 440.0 1331.9 438.8 1335.5 436.3 1338.7 435.3 1342.4 432.5 1346.7 M432.5 1346.7 429.0 1347.4 425.8 1349.1 422.3 1349.7 419.1 1351.4 416.0 1353.0 412.5 1353.8 409.2 1355.8 405.7 1357.5 401.7 1357.9 398.2 1359.5 394.4 1360.3 390.8 1361.7 387.6 1363.9 384.0 1365.2 380.3 1366.4 376.6 1367.4 373.1 1369.0 369.7 1371.0 364.9 1375.8 M482.4 1288.2 484.4 1292.6 486.7 1296.8 489.6 1298.8 492.4 1301.1 495.6 1302.7 498.1 1305.3 502.0 1307.0 505.1 1309.9 508.3 1312.5 512.4 1313.9 516.3 1314.8 520.4 1315.4 524.4 1316.2 528.4 1317.2 532.3 1318.2 536.2 1318.5 539.9 1317.6 543.8 1318.3 547.5 1316.6 551.3 1316.7 555.2 1316.7 558.7 1318.2 562.4 1319.5 565.6 1321.6 569.4 1322.5 572.9 1325.3 576.6 1327.9 580.8 1329.6 583.3 1326.6 584.7 1322.8 587.8 1320.3 590.0 1317.1 592.3 1313.9 592.9 1309.6 593.3 1305.3 594.8 1301.1 595.1 1296.8 597.0 1293.6 596.7 1289.7 598.8 1286.6 599.5 1283.0 600.8 1279.7 603.7 1277.3 607.0 1275.4 609.4 1272.5 613.6 1273.7 617.9 1273.5 622.3 1273.0 626.5 1274.0 630.1 1275.9 634.3 1275.8 638.0 1277.3 641.5 1279.3 645.6 1279.6 649.3 1281.1 653.6 1281.0 657.8 1282.6 662.1 1283.0 666.4 1282.5 670.4 1282.4 674.3 1282.7 678.2 1282.7 682.2 1282.6 686.1 1283.0 689.9 1284.4 693.9 1283.0 697.8 1283.9 M655.0 1050.8 658.2 1053.7 660.7 1057.1 663.1 1060.7 665.2 1064.4 666.4 1068.5 667.3 1072.3 667.9 1076.2 668.7 1080.1 670.0 1083.8 670.6 1087.7 672.1 1091.4 673.0 1095.6 672.5 1099.9 671.3 1104.2 672.1 1108.5 676.8 1110.7 680.7 1114.2 682.5 1117.6 683.6 1121.3 685.4 1124.7 686.4 1128.4 688.5 1132.1 691.4 1135.2 693.2 1138.9 695.0 1142.7 698.4 1145.3 702.9 1145.9 706.4 1148.4 708.8 1151.3 712.4 1152.5 714.4 1156.0 717.6 1157.8 720.6 1159.8 721.8 1163.7 724.1 1167.2 724.9 1171.2 724.6 1175.0 722.3 1178.2 722.3 1182.1 720.6 1185.5 717.4 1188.1 713.2 1189.3 709.6 1191.3 706.4 1194.1 702.9 1196.3 698.5 1196.1 694.9 1198.3 691.2 1200.0 687.6 1201.9 683.6 1202.6 683.8 1206.2 682.7 1209.8 683.9 1213.3 683.6 1216.9 684.9 1221.1 685.6 1225.3 686.4 1229.6 686.4 1234.0 688.8 1236.7 690.1 1240.2 693.4 1242.1 695.0 1245.4 695.9 1249.7 694.9 1254.0 695.1 1258.3 696.4 1262.5 696.4 1266.2 698.5 1269.3 699.2 1272.7 699.0 1276.4 700.7 1279.7 697.8 1283.9 699.3 1287.1 700.3 1290.5 702.4 1293.4 703.5 1296.8 701.4 1301.5 697.8 1305.3 699.2 1308.7 699.7 1312.3 700.8 1315.8 702.3 1319.1 703.5 1322.5 707.0 1324.1 710.3 1325.9 713.8 1327.5 717.2 1329.4 720.6 1331.0 720.5 1334.9 722.1 1338.6 722.1 1342.4 721.2 1346.0 719.9 1349.4 719.3 1353.0 719.2 1356.7 715.6 1356.8 712.2 1354.9 708.6 1354.7 704.9 1355.4 701.3 1354.7 697.8 1353.8 694.3 1354.4 690.7 1354.6 687.1 1353.0 683.6 1353.8 680.8 1356.1 677.4 1357.6 675.4 1360.8 672.1 1362.4 668.4 1363.7 664.4 1362.7 660.7 1363.3 656.8 1363.4 653.1 1364.4 649.3 1365.2 645.5 1367.1 641.5 1368.6 637.9 1371.0 634.9 1373.1 631.2 1373.7 628.0 1375.3 624.8 1377.2 621.2 1377.9 617.9 1379.5 615.3 1381.9 612.2 1383.8 609.5 1386.1 606.5 1388.1 604.9 1392.2 602.9 1396.2 600.8 1400.1 M366.9 1343.9 366.7 1348.8 366.9 1353.8 369.1 1357.3 372.6 1359.5 375.8 1361.7 379.5 1363.0 383.0 1364.4 386.8 1365.2 M270.6 1343.3 270.9 1347.2 269.7 1351.1 271.0 1355.0 270.6 1358.9 271.2 1363.0 270.5 1367.2 270.1 1371.3 270.8 1375.5 270.6 1379.6 271.6 1384.0 273.5 1388.2 274.4 1392.6 273.6 1396.5 274.5 1400.4 274.5 1404.3 274.4 1408.1 276.1 1412.5 277.3 1417.0 279.6 1421.1 280.5 1425.7 283.0 1429.8 284.8 1434.1 286.2 1438.6 287.4 1443.1 M365.2 1374.4 367.2 1378.0 370.1 1380.9 371.7 1384.8 373.1 1389.1 373.6 1393.6 375.5 1397.8 375.0 1401.9 376.3 1406.1 374.9 1410.2 375.7 1414.4 375.5 1418.5 379.2 1417.7 381.9 1415.1 385.0 1413.2 388.5 1412.0 391.7 1414.7 394.6 1417.8 398.3 1419.7 401.5 1422.4 404.9 1424.0 408.5 1424.7 412.2 1425.1 415.7 1426.3 419.0 1429.5 421.8 1433.2 424.8 1436.7 427.1 1440.5 429.3 1444.3 431.3 1448.3 M435.2 1344.6 436.2 1349.2 437.8 1353.7 439.8 1357.6 442.8 1360.7 445.5 1364.1 448.6 1366.2 451.1 1368.9 453.5 1371.7 455.9 1374.4 457.9 1378.0 460.8 1381.0 462.4 1384.8 463.6 1389.1 463.6 1393.4 463.7 1397.8 463.8 1401.4 464.0 1405.1 462.8 1408.7 461.9 1412.2 462.4 1415.9 463.9 1419.8 465.2 1423.9 466.7 1427.8 468.9 1431.5 467.6 1435.3 466.8 1439.1 467.0 1443.2 465.9 1447.0 466.3 1451.0 465.0 1454.8 M287.4 1443.1 291.5 1442.5 295.2 1440.5 297.1 1444.3 298.7 1448.3 300.4 1452.2 303.1 1455.1 306.8 1456.6 310.0 1458.8 312.5 1462.0 315.9 1463.9 320.1 1464.3 324.3 1463.6 328.4 1463.8 332.5 1464.6 336.7 1465.2 339.9 1463.4 343.7 1464.0 347.0 1462.6 351.1 1461.8 355.3 1461.7 359.5 1461.6 363.6 1461.6 367.8 1461.3 371.7 1462.8 375.5 1464.7 379.3 1466.4 383.3 1467.8 386.9 1466.6 390.4 1465.0 394.4 1465.5 397.9 1463.9 401.5 1462.6 405.0 1460.0 409.2 1458.6 413.3 1457.2 417.0 1454.8 420.9 1454.0 423.8 1450.9 427.3 1449.1 431.3 1448.3 434.8 1448.6 438.4 1448.8 441.9 1450.0 445.5 1449.6 449.3 1451.2 453.4 1451.4 457.2 1452.6 461.1 1453.9 465.0 1454.8 468.4 1456.8 472.5 1456.9 476.1 1458.5 479.9 1459.3 483.3 1461.5 487.0 1462.6 490.8 1464.5 493.0 1468.4 496.7 1470.4 500.0 1472.9 502.5 1476.1 505.7 1478.5 507.8 1482.0 M507.8 1482.0 510.0 1478.7 512.9 1475.9 515.5 1472.9 519.3 1471.8 522.5 1469.6 525.9 1467.8 530.4 1469.1 534.2 1472.0 538.9 1472.9 542.8 1471.9 546.7 1470.4 550.4 1468.6 554.4 1467.8 556.2 1464.0 559.2 1460.9 560.1 1456.5 562.8 1453.3 564.8 1449.6 566.0 1446.0 566.6 1442.3 568.4 1438.9 569.6 1435.3 570.0 1431.5 570.6 1427.6 570.4 1423.7 569.4 1419.8 570.0 1415.9 573.5 1414.6 577.2 1414.8 580.8 1414.0 584.4 1413.3 588.1 1413.3 592.0 1411.3 594.7 1407.7 598.5 1405.5 600.6 1402.1 602.3 1398.6 602.5 1394.4 605.4 1391.3 606.3 1387.4 M287.4 1443.1 283.6 1445.2 279.6 1447.0 278.8 1450.8 277.6 1454.5 276.5 1458.2 274.4 1461.5 273.1 1465.2 274.2 1468.6 274.3 1472.2 275.7 1475.5 276.9 1480.1 279.9 1483.9 280.9 1488.5 281.4 1492.1 281.6 1495.7 282.3 1499.3 282.4 1503.0 282.2 1506.6 279.9 1509.5 277.0 1511.8 278.0 1515.8 279.9 1519.5 281.6 1523.3 282.2 1527.4 284.3 1530.4 285.5 1533.8 287.0 1537.2 288.7 1540.3 288.7 1544.7 287.5 1549.0 287.4 1553.3 288.3 1557.6 288.0 1562.0 288.7 1566.3 287.2 1570.5 286.7 1575.1 284.8 1579.2 284.8 1585.7 279.6 1585.9 274.4 1587.0 271.7 1589.5 268.7 1591.6 265.8 1593.9 262.9 1596.2 260.2 1598.7 261.5 1602.6 264.8 1604.4 268.4 1605.8 270.9 1608.8 274.4 1610.3 277.3 1613.4 280.9 1615.5 284.1 1618.2 287.4 1620.7 289.4 1624.4 290.0 1628.8 292.0 1632.5 293.9 1636.3 296.5 1639.5 297.7 1643.5 300.4 1646.6 300.4 1650.3 302.4 1653.5 303.0 1657.0 303.4 1660.8 305.6 1663.9 306.8 1667.4 305.8 1671.5 303.2 1675.0 302.3 1679.2 300.4 1682.9 298.2 1687.1 296.8 1691.5 295.2 1695.9 294.5 1699.6 292.5 1702.8 291.3 1706.3 294.6 1708.2 298.4 1708.8 302.0 1710.2 305.5 1711.4 308.2 1714.3 311.7 1716.1 314.6 1718.6 317.6 1721.1 320.3 1723.8 323.7 1725.7 327.4 1723.9 331.5 1723.1 333.5 1719.4 336.7 1716.6 340.6 1716.4 344.4 1715.4 348.3 1714.3 352.2 1714.0 356.6 1714.3 360.9 1713.9 365.2 1712.7 370.3 1713.5 375.5 1714.0 377.4 1718.0 380.2 1721.3 383.3 1724.4 385.0 1728.3 387.8 1731.5 390.3 1734.9 391.3 1739.1 393.7 1742.6 397.2 1744.0 401.0 1744.4 404.6 1745.6 408.2 1746.8 411.8 1747.7 415.7 1751.6 418.6 1748.1 422.2 1745.1 424.3 1741.0 425.8 1736.5 427.4 1732.2 429.1 1728.2 430.6 1724.1 433.3 1720.6 435.2 1716.6 435.9 1712.9 437.6 1709.5 437.7 1705.6 439.1 1702.1 440.3 1698.5 442.5 1694.9 445.5 1692.0 449.8 1691.4 454.2 1691.3 458.5 1690.7 460.6 1687.6 463.1 1685.0 466.3 1682.9 468.5 1680.0 471.5 1677.7 474.9 1675.2 478.0 1672.1 481.8 1670.0 484.4 1667.2 487.9 1665.7 491.3 1664.1 494.3 1661.9 497.0 1659.2 500.0 1657.0 503.8 1655.5 507.8 1654.4 506.1 1650.2 505.6 1645.9 505.2 1641.5 504.0 1637.2 504.2 1632.7 502.6 1628.5 501.3 1624.9 502.3 1621.0 500.9 1617.4 500.2 1613.7 499.4 1610.0 500.1 1606.1 498.7 1602.6 495.4 1601.1 492.9 1598.6 489.9 1596.7 487.0 1594.8 485.2 1591.1 483.9 1587.2 484.0 1582.8 481.8 1579.2 480.1 1575.5 477.9 1572.1 475.3 1568.9 475.7 1564.9 474.0 1561.1 474.7 1557.2 474.1 1553.3 474.5 1549.4 473.6 1545.5 474.0 1541.6 474.1 1537.8 475.7 1534.5 475.5 1530.8 477.1 1527.5 476.9 1523.8 478.7 1520.5 479.2 1517.0 481.0 1513.7 483.4 1510.8 485.3 1507.6 488.1 1504.9 489.6 1501.5 492.5 1498.3 494.8 1494.6 497.4 1491.1 501.1 1488.3 504.2 1484.9 507.8 1482.0" fill="none" stroke="#111" stroke-width="2.3" stroke-linejoin="round" stroke-linecap="round"/><circle cx="422.5" cy="1279.7" r="3.2" fill="#111"/><path d="M365.3 1422.5 L366.5 1430.1 L365.9 1438.3 L361.5 1438.6 M362.7 1442.1 L367.2 1448.4 L366.2 1456.1 L367 1460 M374.2 1421.8 L373.8 1437 L372.5 1442.7" fill="none" stroke="#111" stroke-width="2.8" stroke-dasharray="5 3"/>
<defs><clipPath id="c1"><rect x="709.2" y="1410.4" width="265.2" height="283.5"/></clipPath><clipPath id="c2"><rect x="1021.5" y="1411" width="273.1" height="282.6"/></clipPath></defs>
<g clip-path="url(#c1)">
<rect x="709" y="1410" width="266" height="284" fill="#96b5e1"/>
<path d="M705.0 1474.7 L711.8 1474.7 L725.4 1473.0 L737.3 1467.9 L745.8 1464.5 L756.0 1464.8 L767.9 1468.2 L776.4 1473.0 L783.2 1480.6 L786.6 1486.6 L788.3 1479.8 L795.1 1474.7 L800.2 1469.6 L807.0 1462.8 L807.0 1454.3 L815.5 1444.1 L824.0 1442.4 L827.4 1444.1 L829.1 1437.3 L839.3 1435.6 L849.5 1430.5 L858.0 1425.4 L864.8 1421.1 L871.6 1420.0 L876.7 1423.7 L873.3 1428.8 L866.5 1430.5 L863.9 1433.9 L870.7 1444.9 L883.5 1439.0 L893.7 1435.3 L909.0 1434.2 L918.3 1438.1 L922.6 1449.2 L931.1 1450.9 L946.3 1448.3 L956.5 1449.5 L971.8 1456.0 L976.9 1456.0 L976.9 1697.3 L716.9 1697.3 L716.9 1692.2 L718.6 1683.7 L723.7 1676.9 L732.2 1670.1 L735.6 1663.3 L740.7 1654.8 L739.0 1648.0 L735.6 1654.8 L723.7 1649.7 L724.5 1641.2 L723.7 1631.1 L730.5 1624.3 L733.0 1614.1 L736.4 1605.6 L737.3 1600.5 L744.1 1597.1 L755.1 1593.7 L754.3 1588.6 L759.4 1581.8 L759.4 1576.7 L767.9 1573.3 L774.7 1566.5 L783.2 1554.6 L778.1 1549.5 L779.8 1539.3 L778.1 1524.0 L779.8 1513.8 L775.5 1505.3 L770.4 1496.8 L766.2 1488.3 L764.5 1483.2 L757.7 1476.4 L749.2 1474.7 L740.7 1479.8 L733.0 1486.6 L737.3 1493.4 L733.9 1498.5 L727.1 1501.0 L725.4 1496.8 L720.3 1491.7 L715.2 1493.4 L711.8 1496.8 L705.0 1496.8Z" fill="#fff" stroke="#000" stroke-width="2" stroke-linejoin="round"/>
<path d="M786.6 1479.8 L795.1 1478.1 L797.6 1481.5 L793.4 1490.0 L791.7 1496.8 L800.2 1500.2 L808.7 1493.4 L813.8 1488.3 L820.6 1486.6 L825.7 1493.4 L826.5 1498.5 L830.8 1500.2 L834.2 1501.9 L827.4 1510.4 L824.0 1517.2 L824.0 1524.0 L813.8 1528.2 L808.7 1526.5 L801.9 1527.4 L798.5 1520.6 L790.0 1515.5 L786.6 1507.0 L788.3 1501.9 L784.9 1491.7 L787.4 1484.9Z" fill="#b5d9b3"/>
<path d="M842.7 1470.4 L846.1 1461.1 L849.5 1450.9 L854.6 1442.4 L863.9 1434.7 M863.9 1433.9 L867.3 1440.7 L870.7 1446.6 L869.0 1452.6 M842.7 1470.4 L849.5 1471.6 L852.9 1478.1 L855.4 1484.9 L856.3 1496.8 L863.1 1503.6 L881.8 1503.6 L892.0 1506.6 L903.9 1518.0 L917.5 1517.2 L932.8 1516.8 L934.8 1520.6 L929.4 1530.8 L928.5 1549.5 L936.2 1561.4 L927.7 1569.0 L936.2 1576.7 L940.4 1583.5 L942.1 1593.7 L951.4 1602.2 L959.9 1602.2 L965.9 1603.9 L971.8 1597.1 M937.9 1582.6 L924.3 1587.7 L897.1 1588.6 L897.1 1598.8 L907.3 1600.5 L907.3 1603.9 L893.7 1607.3 L894.5 1619.2 L902.2 1627.7 L903.9 1634.5 L900.5 1651.4 L897.1 1670.1 L895.4 1683.7 M755.1 1593.7 L764.5 1598.8 L778.1 1603.9 L783.2 1609.0 L793.4 1610.7 L796.8 1607.3 L805.3 1612.4 L813.8 1617.5 L824.0 1622.6 L830.8 1631.1 L839.3 1636.2 L844.4 1644.6 L849.5 1651.4 L863.1 1649.7 L881.8 1651.4 L892.0 1656.5 L890.3 1665.0 L883.5 1673.5 L892.0 1676.9 L895.4 1683.7 M805.3 1614.1 L810.4 1619.2 L812.1 1629.4 L807.0 1639.6 L795.1 1651.4 L776.4 1659.9 L766.2 1666.7 L759.4 1676.9 L754.3 1692.2 M895.4 1683.7 L883.5 1683.7 L861.4 1688.8 L854.6 1693.9 M730.5 1676.9 L732.2 1683.7 L742.4 1685.4 L747.5 1692.2" fill="none" stroke="#000" stroke-width="2" stroke-linejoin="round"/>
<path d="M863.1 1456.0 L868.2 1450.9 L875.0 1452.6 L878.4 1462.8 L876.7 1471.3 L869.9 1473.0 L864.8 1467.9 L862.2 1461.1Z" fill="#96b5e1" stroke="#000" stroke-width="2"/>
<circle cx="894.5" cy="1427.9" r="3" fill="#fff" stroke="#000" stroke-width="1.8"/>
<circle cx="894.5" cy="1418.6" r="1.6" fill="#000"/>
<circle cx="909.8" cy="1422.0" r="1.6" fill="#000"/>
<circle cx="921.7" cy="1423.7" r="1.6" fill="#000"/>
<circle cx="968.4" cy="1443.2" r="1.6" fill="#000"/>
<circle cx="827.4" cy="1444.1" r="1.6" fill="#000"/>
<circle cx="807.0" cy="1454.3" r="1.6" fill="#000"/>
<circle cx="754.3" cy="1484.9" r="1.6" fill="#000"/>
<circle cx="786.6" cy="1489.1" r="1.6" fill="#000"/>
</g>
<rect x="710.2" y="1411.4" width="263.2" height="281.5" fill="none" stroke="#bdbab6" stroke-width="2.6"/>
<g clip-path="url(#c2)">
<rect x="1021" y="1411" width="274" height="283" fill="#fff"/>
<path d="M1166.3 1412.6 L1168.0 1418.6 L1166.3 1427.1 L1169.7 1439.0 L1171.4 1444.1 L1181.6 1450.9 L1191.8 1445.8 L1198.5 1443.2 L1210.4 1456.0 L1212.1 1459.4 L1222.3 1459.4 L1225.7 1452.6 L1230.8 1444.1 L1227.4 1435.6 L1229.1 1420.3 L1230.8 1417.7 L1229.1 1412.6 M1210.4 1457.7 L1208.7 1467.9 M1286.9 1412.6 L1290.3 1418.6 L1290.3 1430.5 L1290.3 1442.4 L1292.0 1456.0 L1292.0 1469.6 L1286.9 1476.4 L1286.9 1490.0 L1290.3 1503.6 L1288.6 1513.8 L1281.8 1524.0 L1281.8 1534.2 M1232.5 1620.8 L1237.6 1631.0 L1249.5 1634.4 L1256.3 1648.0 L1263.1 1651.4 L1269.9 1659.9 L1275.0 1661.6 L1286.9 1663.3 L1293.7 1659.9 M1224.0 1659.9 L1235.9 1658.2 L1244.4 1656.5 L1249.5 1671.8 L1259.7 1678.6 L1266.5 1685.4 L1269.9 1693.6 M1224.0 1659.9 L1220.6 1676.9 L1222.3 1693.6 M1110.2 1668.4 L1106.8 1680.3 L1100.0 1687.1 L1100.0 1693.6 M1127.2 1678.6 L1127.2 1693.6 M1281.8 1676.9 L1293.7 1671.8 M1134.0 1693.6 L1137.4 1690.5 L1142.5 1692.2" fill="none" stroke="#c2c2c2" stroke-width="2"/>
<path d="M1080.4 1412.6 L1084.7 1420.3 L1089.8 1428.8 L1096.6 1432.2 L1100.0 1442.4 L1098.3 1452.6 L1091.5 1459.4 L1084.7 1473.0 L1080.4 1484.9 L1076.2 1500.2 L1077.9 1517.2 L1083.8 1531.6 L1128.9 1532.5 L1134.0 1522.3 L1144.2 1518.9 L1151.0 1513.8 L1152.7 1505.3 L1159.5 1495.1 L1168.0 1486.6 L1178.2 1478.1 L1190.1 1476.4 L1198.5 1473.8 L1208.7 1467.9 L1215.5 1473.0 L1227.4 1481.5 L1232.5 1490.0 L1232.5 1498.5 L1236.8 1503.6 L1230.8 1510.4 L1229.1 1522.3 L1234.2 1532.5 L1242.7 1525.7 L1244.4 1524.0 L1247.0 1529.1 L1242.7 1537.6 L1246.1 1558.0 L1256.3 1559.7 L1280.1 1537.6 L1280.1 1551.2 L1285.2 1559.7 L1271.6 1575.0 L1258.0 1581.8 L1246.1 1590.2 L1241.0 1600.4 L1242.7 1608.9 L1232.5 1620.8 L1227.4 1634.4 L1227.4 1648.0 L1223.2 1658.2 L1208.7 1663.3 L1195.1 1666.7 L1185.0 1673.5 L1173.9 1683.7 L1168.0 1675.2 L1162.9 1665.0 L1151.0 1661.6 L1149.3 1676.9 L1132.3 1678.6 L1115.3 1676.9 L1110.2 1668.4 L1107.6 1653.1 L1106.8 1642.9 L1098.3 1634.4 L1094.9 1627.6 L1083.0 1625.9 L1059.2 1625.9 L1055.8 1615.7 L1054.1 1602.1 L1043.9 1595.3 L1040.5 1585.1 L1039.6 1576.7 L1047.3 1573.3 L1050.7 1563.1 L1059.2 1558.8 L1072.8 1561.4 L1076.2 1554.6 L1075.3 1544.4 L1069.4 1537.6 L1060.9 1534.2 L1052.4 1520.6 L1042.2 1512.1 L1033.7 1507.0 L1027.2 1500.2 L1034.2 1492.7 L1035.9 1480.1 L1042.5 1475.2 L1040.5 1439.8Z" fill="#b5d9b3" stroke="#8fa58d" stroke-width="1.6" stroke-linejoin="round"/>
<path d="M1021.8 1411.8 L1080.4 1412.6 L1064.3 1422.5 L1061.7 1427.6 L1046.8 1431.7 L1040.0 1439.2 L1048.5 1442.6 L1053.4 1449.2 L1055.1 1463.5 L1056.8 1476.0 L1056.0 1487.6 L1050.0 1489.3 L1043.4 1487.6 L1041.7 1483.5 L1044.2 1476.0 L1050.0 1476.0 L1049.2 1471.8 L1042.5 1471.8 L1039.3 1461.8 L1034.2 1462.6 L1024.2 1447.7 L1021.8 1447.7Z" fill="#96b5e1"/>
<path d="M1080.4 1412.6 L1064.3 1422.5 L1061.7 1427.6 L1046.8 1431.7 L1040.0 1439.2 L1048.5 1442.6 L1053.4 1449.2 L1055.1 1463.5 L1056.8 1476.0 L1056.0 1487.6 L1050.0 1489.3 L1043.4 1487.6 L1041.7 1483.5 L1044.2 1476.0 M1021.8 1447.7 L1024.2 1447.7 L1034.2 1462.6 L1039.3 1461.8" fill="none" stroke="#111" stroke-width="2"/>
<path d="M1139.1 1612.3 L1149.3 1608.1 L1152.7 1612.3 L1157.8 1608.1 L1164.6 1606.4 L1169.7 1602.1 L1176.5 1603.0 L1174.8 1607.2 L1168.0 1610.6 L1161.2 1615.7 L1154.4 1619.1 L1156.1 1625.9 L1151.0 1631.0 L1149.3 1637.8 L1145.9 1642.9 L1142.5 1639.5 L1141.6 1631.0 L1139.9 1622.5Z" fill="#97baa9" stroke="#7f9a8c" stroke-width="1.4"/>
</g>
<rect x="1022.5" y="1412" width="271.1" height="280.6" fill="none" stroke="#bdbab6" stroke-width="2.6"/>
<rect x="1628.30" y="599.80" width="92.14" height="92.22" fill="#52c777"/>
<rect x="1720.44" y="599.80" width="92.14" height="92.22" fill="#52c777"/>
<rect x="1904.73" y="599.80" width="92.14" height="92.22" fill="#52c777"/>
<rect x="1628.30" y="692.02" width="92.14" height="92.22" fill="#f9df5a"/>
<rect x="1720.44" y="692.02" width="92.14" height="92.22" fill="#f9df5a"/>
<rect x="1904.73" y="692.02" width="92.14" height="92.22" fill="#f9df5a"/>
<rect x="1628.30" y="784.23" width="92.14" height="92.22" fill="#f9df5a"/>
<rect x="1720.44" y="784.23" width="92.14" height="92.22" fill="#f9df5a"/>
<rect x="1904.73" y="784.23" width="92.14" height="92.22" fill="#f9df5a"/>
<rect x="1628.30" y="876.45" width="92.14" height="92.22" fill="#f9df5a"/>
<rect x="1720.44" y="876.45" width="92.14" height="92.22" fill="#f9df5a"/>
<rect x="1904.73" y="876.45" width="92.14" height="92.22" fill="#f9df5a"/>
<rect x="1628.30" y="968.67" width="92.14" height="92.22" fill="#f9df5a"/>
<rect x="1720.44" y="968.67" width="92.14" height="92.22" fill="#f9df5a"/>
<rect x="1904.73" y="968.67" width="92.14" height="92.22" fill="#f9df5a"/>
<rect x="1628.30" y="1060.88" width="92.14" height="92.22" fill="#f9df5a"/>
<rect x="1720.44" y="1060.88" width="92.14" height="92.22" fill="#f9df5a"/>
<rect x="1904.73" y="1060.88" width="92.14" height="92.22" fill="#f9df5a"/>
<rect x="1628.30" y="1153.10" width="92.14" height="92.22" fill="#f9df5a"/>
<rect x="1720.44" y="1153.10" width="92.14" height="92.22" fill="#f9df5a"/>
<rect x="1904.73" y="1153.10" width="92.14" height="92.22" fill="#f9df5a"/>
<rect x="1628.30" y="1245.32" width="92.14" height="92.22" fill="#52c777"/>
<rect x="1720.44" y="1245.32" width="92.14" height="92.22" fill="#52c777"/>
<rect x="1904.73" y="1245.32" width="92.14" height="92.22" fill="#52c777"/>
<rect x="1628.30" y="1337.53" width="92.14" height="92.22" fill="#f9df5a"/>
<rect x="1720.44" y="1337.53" width="92.14" height="92.22" fill="#f9df5a"/>
<rect x="1904.73" y="1337.53" width="92.14" height="92.22" fill="#f9df5a"/>
<rect x="1628.30" y="1429.75" width="92.14" height="92.22" fill="#f9df5a"/>
<rect x="1720.44" y="1429.75" width="92.14" height="92.22" fill="#f9df5a"/>
<rect x="1904.73" y="1429.75" width="92.14" height="92.22" fill="#f9df5a"/>
<rect x="1628.30" y="1521.97" width="92.14" height="92.22" fill="#f14747"/>
<rect x="1720.44" y="1521.97" width="92.14" height="92.22" fill="#f9df5a"/>
<rect x="1904.73" y="1521.97" width="92.14" height="92.22" fill="#f9df5a"/>
<rect x="1628.30" y="1614.18" width="92.14" height="92.22" fill="#f9df5a"/>
<rect x="1720.44" y="1614.18" width="92.14" height="92.22" fill="#f9df5a"/>
<rect x="1904.73" y="1614.18" width="92.14" height="92.22" fill="#f9df5a"/>
<path d="M1720.4 599.8V1706.4M1812.6 599.8V1706.4M1904.7 599.8V1706.4M1996.9 599.8V1706.4M2089.0 599.8V1706.4M2181.2 599.8V1706.4M1628.3 692.0H2273.3M1628.3 784.2H2273.3M1628.3 876.5H2273.3M1628.3 968.7H2273.3M1628.3 1060.9H2273.3M1628.3 1153.1H2273.3M1628.3 1245.3H2273.3M1628.3 1337.5H2273.3M1628.3 1429.8H2273.3M1628.3 1522.0H2273.3M1628.3 1614.2H2273.3" stroke="#111" stroke-width="2.2" fill="none"/>
<rect x="1628.3" y="599.8" width="645.0" height="1106.6" fill="none" stroke="#bdbab6" stroke-width="3"/>
<path d="M1619.5 692.0H1627M1619.5 784.2H1627M1619.5 876.5H1627M1619.5 968.7H1627M1619.5 1060.9H1627M1619.5 1153.1H1627M1619.5 1245.3H1627M1619.5 1337.5H1627M1619.5 1429.8H1627M1619.5 1522.0H1627M1619.5 1614.2H1627M1619.5 1706.4H1627M1628.3 1708V1714.5M1720.4 1708V1714.5M1812.6 1708V1714.5M1904.7 1708V1714.5M1996.9 1708V1714.5M2089.0 1708V1714.5M2181.2 1708V1714.5" stroke="#222" stroke-width="1.8" fill="none"/>
<text x="1514.8" y="609.3" font-family="Liberation Sans" font-size="23.5" fill="#262626" textLength="91.2" lengthAdjust="spacingAndGlyphs">Barbosa</text>
<text x="1502.4" y="709.9" font-family="Liberation Sans" font-size="23.5" fill="#262626" textLength="103.6" lengthAdjust="spacingAndGlyphs">Girardota</text>
<text x="1467.9" y="810.6" font-family="Liberation Sans" font-size="23.5" fill="#262626" textLength="138.1" lengthAdjust="spacingAndGlyphs">Copacabana</text>
<text x="1552.4" y="911.2" font-family="Liberation Sans" font-size="23.5" fill="#262626" textLength="53.6" lengthAdjust="spacingAndGlyphs">Bello</text>
<text x="1429.1" y="1011.9" font-family="Liberation Sans" font-size="23.5" fill="#262626" textLength="176.9" lengthAdjust="spacingAndGlyphs">Medellín Centro</text>
<text x="1420.4" y="1112.5" font-family="Liberation Sans" font-size="23.5" fill="#262626" textLength="185.6" lengthAdjust="spacingAndGlyphs">Medellín Oriente</text>
<text x="1389.8" y="1213.2" font-family="Liberation Sans" font-size="23.5" fill="#262626" textLength="216.2" lengthAdjust="spacingAndGlyphs">Medellín Occidente</text>
<text x="1542.9" y="1313.8" font-family="Liberation Sans" font-size="23.5" fill="#262626" textLength="63.1" lengthAdjust="spacingAndGlyphs">Itagüí</text>
<text x="1503.7" y="1414.5" font-family="Liberation Sans" font-size="23.5" fill="#262626" textLength="102.3" lengthAdjust="spacingAndGlyphs">Envigado</text>
<text x="1489.1" y="1515.2" font-family="Liberation Sans" font-size="23.5" fill="#262626" textLength="116.9" lengthAdjust="spacingAndGlyphs">La Estrella</text>
<text x="1502.4" y="1615.8" font-family="Liberation Sans" font-size="23.5" fill="#262626" textLength="103.6" lengthAdjust="spacingAndGlyphs">Sabaneta</text>
<text x="1532.5" y="1716.5" font-family="Liberation Sans" font-size="23.5" fill="#262626" textLength="73.5" lengthAdjust="spacingAndGlyphs">Caldas</text>
<text x="1631" y="1752" font-family="Liberation Sans" font-size="40" fill="#111" textLength="54" lengthAdjust="spacingAndGlyphs">J15</text>
<text x="1720.7" y="1752" font-family="Liberation Sans" font-size="40" fill="#111" textLength="68.5" lengthAdjust="spacingAndGlyphs">V16</text>
<text x="1813.5" y="1752" font-family="Liberation Sans" font-size="40" fill="#111" textLength="67.3" lengthAdjust="spacingAndGlyphs">S17</text>
<text x="1906.4" y="1752" font-family="Liberation Sans" font-size="40" fill="#111" textLength="73" lengthAdjust="spacingAndGlyphs">D18</text>
<text x="1998" y="1752" font-family="Liberation Sans" font-size="40" fill="#111" textLength="65" lengthAdjust="spacingAndGlyphs">L19</text>
<text x="2089.5" y="1752" font-family="Liberation Sans" font-size="40" fill="#111" textLength="76.5" lengthAdjust="spacingAndGlyphs">M20</text>
<text x="2182.8" y="1752" font-family="Liberation Sans" font-size="40" fill="#111" textLength="76.1" lengthAdjust="spacingAndGlyphs">M21</text>
<text x="1733" y="1809.4" font-family="Liberation Sans" font-size="53" fill="#555" textLength="433" lengthAdjust="spacingAndGlyphs">Día de la semana</text>
<text x="1659" y="525.8" font-family="Liberation Sans" font-size="53" fill="#555" textLength="582" lengthAdjust="spacingAndGlyphs">Susceptibilidad diaria a</text>
<text x="1701.5" y="582" font-family="Liberation Sans" font-size="53" fill="#555" textLength="497" lengthAdjust="spacingAndGlyphs">incendios forestales</text>
<path d="M473.7 1898.5 V1875 H468.8 V1865.2 H473.7 V1858.6 C473.7 1853.1 477.2 1850.4 483 1850.4 H492.3 V1859.1 H486.5 C484.8 1859.1 484.1 1860 484.1 1861.5 V1865.2 H492.3 L491.3 1875 H484.1 V1898.5 Z" fill="#fff"/>
<path d="M560.5 1858 C558.5 1859 556.5 1859.5 554.5 1860 C556.5 1858.5 558 1856.5 559 1854.5 C557 1855.5 555 1856.5 552.5 1857 C550.5 1855 548 1854 545 1854 C539 1854 534.5 1859 534.5 1864.5 C534.5 1865.5 534.5 1866 535 1867 C526 1866.5 518 1862 513 1856 C512 1857.5 511.5 1859.5 511.5 1861.5 C511.5 1865 513.5 1868.5 516 1870.5 C514.5 1870.5 512.5 1870 511.5 1869.5 C511.5 1874.5 515 1879 520 1880 C518.5 1880.5 516.5 1880.5 515 1880 C516.5 1884 520 1887 524.5 1887 C521 1890 516.5 1891.5 511.5 1891.5 C510.5 1891.5 510 1891.5 509 1891.5 C513.5 1894.5 519 1896 525 1896 C545 1896 555.5 1879.5 555.5 1865.5 V1864 C557.5 1862.5 559 1860.5 560.5 1858 Z" fill="#fff"/>
<rect x="575" y="1854" width="41" height="41" rx="11" fill="none" stroke="#fff" stroke-width="5"/>
<circle cx="595.5" cy="1874.5" r="9" fill="none" stroke="#fff" stroke-width="5"/>
<circle cx="606.5" cy="1863" r="2.8" fill="#fff"/>
<rect x="631.5" y="1856.6" width="48.3" height="35" rx="9" fill="#fff"/>
<path d="M650 1865.5 L664 1874 L650 1882.5 Z" fill="#11354d"/>
<text x="718.6" y="1889" font-family="Liberation Sans" font-size="52" fill="#fff" textLength="399" lengthAdjust="spacingAndGlyphs">@areametropol</text>
<text x="718.6" y="1948" font-family="Liberation Sans" font-size="52" fill="#fff" textLength="399" lengthAdjust="spacingAndGlyphs">@siatamedellin</text>
<line x1="1200.6" y1="1837" x2="1200.6" y2="1957" stroke="#fff" stroke-width="5" stroke-linecap="round"/>
<g fill="none" stroke="#fff" stroke-width="4"><circle cx="1311.7" cy="1874" r="23.5"/><ellipse cx="1311.7" cy="1874" rx="10" ry="23.5"/><line x1="1288.2" y1="1874" x2="1335.2" y2="1874"/><line x1="1292" y1="1862" x2="1331.4" y2="1862"/><line x1="1292" y1="1886" x2="1331.4" y2="1886"/><line x1="1311.7" y1="1850.5" x2="1311.7" y2="1897.5"/></g>
<text x="1381" y="1889" font-family="Liberation Sans" font-size="52" fill="#fff" textLength="564" lengthAdjust="spacingAndGlyphs">www.metropol.gov.co</text>
<text x="1381" y="1948" font-family="Liberation Sans" font-size="52" fill="#fff" textLength="455" lengthAdjust="spacingAndGlyphs">www.siata.gov.co</text>
</svg>
</body></html>
